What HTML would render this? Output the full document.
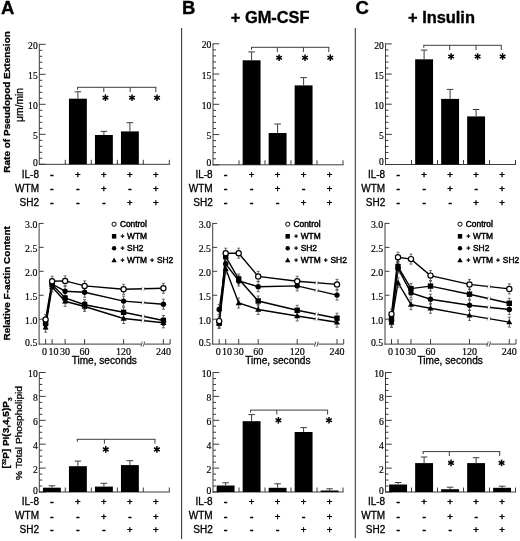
<!DOCTYPE html>
<html><head><meta charset="utf-8"><style>
html,body{margin:0;padding:0;background:#fff;}
body{width:520px;height:541px;overflow:hidden;font-family:"Liberation Sans", sans-serif;}
svg{display:block;filter:grayscale(1) blur(0.3px);}
</style></head><body>
<svg width="520" height="541" viewBox="0 0 520 541">
<rect width="520" height="541" fill="#fff"/>
<text x="0.90" y="14.30" font-size="18.5" text-anchor="start" font-family='"Liberation Sans", sans-serif' font-weight="bold" stroke="#000" stroke-width="0.35" >A</text>
<text x="182.10" y="14.30" font-size="18.5" text-anchor="start" font-family='"Liberation Sans", sans-serif' font-weight="bold" stroke="#000" stroke-width="0.35" >B</text>
<text x="355.60" y="14.30" font-size="18.5" text-anchor="start" font-family='"Liberation Sans", sans-serif' font-weight="bold" stroke="#000" stroke-width="0.35" >C</text>
<text x="230.80" y="23.20" font-size="16.4" text-anchor="start" font-family='"Liberation Sans", sans-serif' font-weight="bold" stroke="#000" stroke-width="0.35" >+ GM-CSF</text>
<text x="408.00" y="23.20" font-size="16.4" text-anchor="start" font-family='"Liberation Sans", sans-serif' font-weight="bold" stroke="#000" stroke-width="0.35" >+ Insulin</text>
<line x1="181.60" y1="28.00" x2="181.60" y2="539.00" stroke="#3c3c3c" stroke-width="1.1"/>
<line x1="355.30" y1="28.00" x2="355.30" y2="538.00" stroke="#3c3c3c" stroke-width="1.1"/>
<line x1="39.30" y1="43.80" x2="39.30" y2="164.80" stroke="#3c3c3c" stroke-width="1"/>
<line x1="38.80" y1="164.30" x2="169.80" y2="164.30" stroke="#3c3c3c" stroke-width="1"/>
<line x1="39.30" y1="164.30" x2="45.60" y2="164.30" stroke="#3c3c3c" stroke-width="1"/>
<line x1="39.30" y1="158.30" x2="42.30" y2="158.30" stroke="#3c3c3c" stroke-width="1"/>
<line x1="39.30" y1="152.30" x2="42.30" y2="152.30" stroke="#3c3c3c" stroke-width="1"/>
<line x1="39.30" y1="146.30" x2="42.30" y2="146.30" stroke="#3c3c3c" stroke-width="1"/>
<line x1="39.30" y1="140.30" x2="42.30" y2="140.30" stroke="#3c3c3c" stroke-width="1"/>
<line x1="39.30" y1="134.30" x2="45.60" y2="134.30" stroke="#3c3c3c" stroke-width="1"/>
<line x1="39.30" y1="128.30" x2="42.30" y2="128.30" stroke="#3c3c3c" stroke-width="1"/>
<line x1="39.30" y1="122.30" x2="42.30" y2="122.30" stroke="#3c3c3c" stroke-width="1"/>
<line x1="39.30" y1="116.30" x2="42.30" y2="116.30" stroke="#3c3c3c" stroke-width="1"/>
<line x1="39.30" y1="110.30" x2="42.30" y2="110.30" stroke="#3c3c3c" stroke-width="1"/>
<line x1="39.30" y1="104.30" x2="45.60" y2="104.30" stroke="#3c3c3c" stroke-width="1"/>
<line x1="39.30" y1="98.30" x2="42.30" y2="98.30" stroke="#3c3c3c" stroke-width="1"/>
<line x1="39.30" y1="92.30" x2="42.30" y2="92.30" stroke="#3c3c3c" stroke-width="1"/>
<line x1="39.30" y1="86.30" x2="42.30" y2="86.30" stroke="#3c3c3c" stroke-width="1"/>
<line x1="39.30" y1="80.30" x2="42.30" y2="80.30" stroke="#3c3c3c" stroke-width="1"/>
<line x1="39.30" y1="74.30" x2="45.60" y2="74.30" stroke="#3c3c3c" stroke-width="1"/>
<line x1="39.30" y1="68.30" x2="42.30" y2="68.30" stroke="#3c3c3c" stroke-width="1"/>
<line x1="39.30" y1="62.30" x2="42.30" y2="62.30" stroke="#3c3c3c" stroke-width="1"/>
<line x1="39.30" y1="56.30" x2="42.30" y2="56.30" stroke="#3c3c3c" stroke-width="1"/>
<line x1="39.30" y1="50.30" x2="42.30" y2="50.30" stroke="#3c3c3c" stroke-width="1"/>
<line x1="39.30" y1="44.30" x2="45.60" y2="44.30" stroke="#3c3c3c" stroke-width="1"/>
<text x="37.70" y="48.90" font-size="9.6" text-anchor="end" font-family='"Liberation Serif", serif' font-weight="normal" stroke="#000" stroke-width="0.18" >20</text>
<text x="37.70" y="78.90" font-size="9.6" text-anchor="end" font-family='"Liberation Serif", serif' font-weight="normal" stroke="#000" stroke-width="0.18" >15</text>
<text x="37.70" y="108.90" font-size="9.6" text-anchor="end" font-family='"Liberation Serif", serif' font-weight="normal" stroke="#000" stroke-width="0.18" >10</text>
<text x="37.70" y="138.90" font-size="9.6" text-anchor="end" font-family='"Liberation Serif", serif' font-weight="normal" stroke="#000" stroke-width="0.18" >5</text>
<text x="37.70" y="165.90" font-size="9.6" text-anchor="end" font-family='"Liberation Serif", serif' font-weight="normal" stroke="#000" stroke-width="0.18" >0</text>
<line x1="65.30" y1="159.80" x2="65.30" y2="164.30" stroke="#3c3c3c" stroke-width="1"/>
<line x1="91.30" y1="159.80" x2="91.30" y2="164.30" stroke="#3c3c3c" stroke-width="1"/>
<line x1="117.30" y1="159.80" x2="117.30" y2="164.30" stroke="#3c3c3c" stroke-width="1"/>
<line x1="143.30" y1="159.80" x2="143.30" y2="164.30" stroke="#3c3c3c" stroke-width="1"/>
<line x1="169.30" y1="159.80" x2="169.30" y2="164.30" stroke="#3c3c3c" stroke-width="1"/>
<rect x="68.95" y="98.70" width="17.9" height="65.60" fill="#000"/>
<line x1="77.90" y1="91.80" x2="77.90" y2="98.70" stroke="#3c3c3c" stroke-width="1"/>
<line x1="74.60" y1="91.80" x2="81.20" y2="91.80" stroke="#3c3c3c" stroke-width="1"/>
<rect x="94.95" y="135.00" width="17.9" height="29.30" fill="#000"/>
<line x1="103.90" y1="131.40" x2="103.90" y2="135.00" stroke="#3c3c3c" stroke-width="1"/>
<line x1="100.60" y1="131.40" x2="107.20" y2="131.40" stroke="#3c3c3c" stroke-width="1"/>
<rect x="120.95" y="131.40" width="17.9" height="32.90" fill="#000"/>
<line x1="129.90" y1="122.70" x2="129.90" y2="131.40" stroke="#3c3c3c" stroke-width="1"/>
<line x1="126.60" y1="122.70" x2="133.20" y2="122.70" stroke="#3c3c3c" stroke-width="1"/>
<line x1="77.10" y1="87.30" x2="156.30" y2="87.30" stroke="#3c3c3c" stroke-width="1"/>
<line x1="77.60" y1="87.30" x2="77.60" y2="89.80" stroke="#3c3c3c" stroke-width="1"/>
<line x1="103.80" y1="87.30" x2="103.80" y2="92.10" stroke="#3c3c3c" stroke-width="1"/>
<line x1="130.20" y1="87.30" x2="130.20" y2="92.10" stroke="#3c3c3c" stroke-width="1"/>
<line x1="155.80" y1="87.30" x2="155.80" y2="92.10" stroke="#3c3c3c" stroke-width="1"/>
<line x1="105.40" y1="94.40" x2="105.40" y2="101.00" stroke="#000" stroke-width="1.5"/>
<line x1="102.54" y1="96.05" x2="108.26" y2="99.35" stroke="#000" stroke-width="1.5"/>
<line x1="102.54" y1="99.35" x2="108.26" y2="96.05" stroke="#000" stroke-width="1.5"/>
<line x1="132.00" y1="94.40" x2="132.00" y2="101.00" stroke="#000" stroke-width="1.5"/>
<line x1="129.14" y1="96.05" x2="134.86" y2="99.35" stroke="#000" stroke-width="1.5"/>
<line x1="129.14" y1="99.35" x2="134.86" y2="96.05" stroke="#000" stroke-width="1.5"/>
<line x1="157.00" y1="94.40" x2="157.00" y2="101.00" stroke="#000" stroke-width="1.5"/>
<line x1="154.14" y1="96.05" x2="159.86" y2="99.35" stroke="#000" stroke-width="1.5"/>
<line x1="154.14" y1="99.35" x2="159.86" y2="96.05" stroke="#000" stroke-width="1.5"/>
<text x="39.00" y="177.60" font-size="10" text-anchor="end" font-family='"Liberation Sans", sans-serif' font-weight="normal" stroke="#000" stroke-width="0.3" >IL-8</text>
<text x="51.90" y="177.90" font-size="10" text-anchor="middle" font-family='"Liberation Sans", sans-serif' font-weight="normal" stroke="#000" stroke-width="0.7" >-</text>
<text x="77.90" y="177.90" font-size="9.6" text-anchor="middle" font-family='"Liberation Sans", sans-serif' font-weight="normal" stroke="#000" stroke-width="0.45" >+</text>
<text x="103.90" y="177.90" font-size="9.6" text-anchor="middle" font-family='"Liberation Sans", sans-serif' font-weight="normal" stroke="#000" stroke-width="0.45" >+</text>
<text x="129.90" y="177.90" font-size="9.6" text-anchor="middle" font-family='"Liberation Sans", sans-serif' font-weight="normal" stroke="#000" stroke-width="0.45" >+</text>
<text x="155.90" y="177.90" font-size="9.6" text-anchor="middle" font-family='"Liberation Sans", sans-serif' font-weight="normal" stroke="#000" stroke-width="0.45" >+</text>
<text x="39.00" y="191.80" font-size="10" text-anchor="end" font-family='"Liberation Sans", sans-serif' font-weight="normal" stroke="#000" stroke-width="0.3" >WTM</text>
<text x="51.90" y="192.10" font-size="10" text-anchor="middle" font-family='"Liberation Sans", sans-serif' font-weight="normal" stroke="#000" stroke-width="0.7" >-</text>
<text x="77.90" y="192.10" font-size="10" text-anchor="middle" font-family='"Liberation Sans", sans-serif' font-weight="normal" stroke="#000" stroke-width="0.7" >-</text>
<text x="103.90" y="192.10" font-size="9.6" text-anchor="middle" font-family='"Liberation Sans", sans-serif' font-weight="normal" stroke="#000" stroke-width="0.45" >+</text>
<text x="129.90" y="192.10" font-size="10" text-anchor="middle" font-family='"Liberation Sans", sans-serif' font-weight="normal" stroke="#000" stroke-width="0.7" >-</text>
<text x="155.90" y="192.10" font-size="9.6" text-anchor="middle" font-family='"Liberation Sans", sans-serif' font-weight="normal" stroke="#000" stroke-width="0.45" >+</text>
<text x="39.00" y="205.90" font-size="10" text-anchor="end" font-family='"Liberation Sans", sans-serif' font-weight="normal" stroke="#000" stroke-width="0.3" >SH2</text>
<text x="51.90" y="206.20" font-size="10" text-anchor="middle" font-family='"Liberation Sans", sans-serif' font-weight="normal" stroke="#000" stroke-width="0.7" >-</text>
<text x="77.90" y="206.20" font-size="10" text-anchor="middle" font-family='"Liberation Sans", sans-serif' font-weight="normal" stroke="#000" stroke-width="0.7" >-</text>
<text x="103.90" y="206.20" font-size="10" text-anchor="middle" font-family='"Liberation Sans", sans-serif' font-weight="normal" stroke="#000" stroke-width="0.7" >-</text>
<text x="129.90" y="206.20" font-size="9.6" text-anchor="middle" font-family='"Liberation Sans", sans-serif' font-weight="normal" stroke="#000" stroke-width="0.45" >+</text>
<text x="155.90" y="206.20" font-size="9.6" text-anchor="middle" font-family='"Liberation Sans", sans-serif' font-weight="normal" stroke="#000" stroke-width="0.45" >+</text>
<line x1="213.00" y1="43.30" x2="213.00" y2="165.30" stroke="#3c3c3c" stroke-width="1"/>
<line x1="212.50" y1="164.80" x2="343.50" y2="164.80" stroke="#3c3c3c" stroke-width="1"/>
<line x1="213.00" y1="164.80" x2="219.30" y2="164.80" stroke="#3c3c3c" stroke-width="1"/>
<line x1="213.00" y1="158.75" x2="216.00" y2="158.75" stroke="#3c3c3c" stroke-width="1"/>
<line x1="213.00" y1="152.70" x2="216.00" y2="152.70" stroke="#3c3c3c" stroke-width="1"/>
<line x1="213.00" y1="146.65" x2="216.00" y2="146.65" stroke="#3c3c3c" stroke-width="1"/>
<line x1="213.00" y1="140.60" x2="216.00" y2="140.60" stroke="#3c3c3c" stroke-width="1"/>
<line x1="213.00" y1="134.55" x2="219.30" y2="134.55" stroke="#3c3c3c" stroke-width="1"/>
<line x1="213.00" y1="128.50" x2="216.00" y2="128.50" stroke="#3c3c3c" stroke-width="1"/>
<line x1="213.00" y1="122.45" x2="216.00" y2="122.45" stroke="#3c3c3c" stroke-width="1"/>
<line x1="213.00" y1="116.40" x2="216.00" y2="116.40" stroke="#3c3c3c" stroke-width="1"/>
<line x1="213.00" y1="110.35" x2="216.00" y2="110.35" stroke="#3c3c3c" stroke-width="1"/>
<line x1="213.00" y1="104.30" x2="219.30" y2="104.30" stroke="#3c3c3c" stroke-width="1"/>
<line x1="213.00" y1="98.25" x2="216.00" y2="98.25" stroke="#3c3c3c" stroke-width="1"/>
<line x1="213.00" y1="92.20" x2="216.00" y2="92.20" stroke="#3c3c3c" stroke-width="1"/>
<line x1="213.00" y1="86.15" x2="216.00" y2="86.15" stroke="#3c3c3c" stroke-width="1"/>
<line x1="213.00" y1="80.10" x2="216.00" y2="80.10" stroke="#3c3c3c" stroke-width="1"/>
<line x1="213.00" y1="74.05" x2="219.30" y2="74.05" stroke="#3c3c3c" stroke-width="1"/>
<line x1="213.00" y1="68.00" x2="216.00" y2="68.00" stroke="#3c3c3c" stroke-width="1"/>
<line x1="213.00" y1="61.95" x2="216.00" y2="61.95" stroke="#3c3c3c" stroke-width="1"/>
<line x1="213.00" y1="55.90" x2="216.00" y2="55.90" stroke="#3c3c3c" stroke-width="1"/>
<line x1="213.00" y1="49.85" x2="216.00" y2="49.85" stroke="#3c3c3c" stroke-width="1"/>
<line x1="213.00" y1="43.80" x2="219.30" y2="43.80" stroke="#3c3c3c" stroke-width="1"/>
<text x="211.40" y="48.40" font-size="9.6" text-anchor="end" font-family='"Liberation Serif", serif' font-weight="normal" stroke="#000" stroke-width="0.18" >20</text>
<text x="211.40" y="78.65" font-size="9.6" text-anchor="end" font-family='"Liberation Serif", serif' font-weight="normal" stroke="#000" stroke-width="0.18" >15</text>
<text x="211.40" y="108.90" font-size="9.6" text-anchor="end" font-family='"Liberation Serif", serif' font-weight="normal" stroke="#000" stroke-width="0.18" >10</text>
<text x="211.40" y="139.15" font-size="9.6" text-anchor="end" font-family='"Liberation Serif", serif' font-weight="normal" stroke="#000" stroke-width="0.18" >5</text>
<text x="211.40" y="165.60" font-size="9.6" text-anchor="end" font-family='"Liberation Serif", serif' font-weight="normal" stroke="#000" stroke-width="0.18" >0</text>
<line x1="239.00" y1="160.30" x2="239.00" y2="164.80" stroke="#3c3c3c" stroke-width="1"/>
<line x1="265.00" y1="160.30" x2="265.00" y2="164.80" stroke="#3c3c3c" stroke-width="1"/>
<line x1="291.00" y1="160.30" x2="291.00" y2="164.80" stroke="#3c3c3c" stroke-width="1"/>
<line x1="317.00" y1="160.30" x2="317.00" y2="164.80" stroke="#3c3c3c" stroke-width="1"/>
<line x1="343.00" y1="160.30" x2="343.00" y2="164.80" stroke="#3c3c3c" stroke-width="1"/>
<rect x="242.65" y="60.30" width="17.9" height="104.50" fill="#000"/>
<line x1="251.60" y1="51.90" x2="251.60" y2="60.30" stroke="#3c3c3c" stroke-width="1"/>
<line x1="248.30" y1="51.90" x2="254.90" y2="51.90" stroke="#3c3c3c" stroke-width="1"/>
<rect x="268.65" y="133.00" width="17.9" height="31.80" fill="#000"/>
<line x1="277.60" y1="124.00" x2="277.60" y2="133.00" stroke="#3c3c3c" stroke-width="1"/>
<line x1="274.30" y1="124.00" x2="280.90" y2="124.00" stroke="#3c3c3c" stroke-width="1"/>
<rect x="294.65" y="85.40" width="17.9" height="79.40" fill="#000"/>
<line x1="303.60" y1="77.60" x2="303.60" y2="85.40" stroke="#3c3c3c" stroke-width="1"/>
<line x1="300.30" y1="77.60" x2="306.90" y2="77.60" stroke="#3c3c3c" stroke-width="1"/>
<line x1="251.00" y1="47.30" x2="329.30" y2="47.30" stroke="#3c3c3c" stroke-width="1"/>
<line x1="251.50" y1="47.30" x2="251.50" y2="49.80" stroke="#3c3c3c" stroke-width="1"/>
<line x1="277.30" y1="47.30" x2="277.30" y2="52.10" stroke="#3c3c3c" stroke-width="1"/>
<line x1="303.40" y1="47.30" x2="303.40" y2="52.10" stroke="#3c3c3c" stroke-width="1"/>
<line x1="328.80" y1="47.30" x2="328.80" y2="52.10" stroke="#3c3c3c" stroke-width="1"/>
<line x1="279.10" y1="54.40" x2="279.10" y2="61.00" stroke="#000" stroke-width="1.5"/>
<line x1="276.24" y1="56.05" x2="281.96" y2="59.35" stroke="#000" stroke-width="1.5"/>
<line x1="276.24" y1="59.35" x2="281.96" y2="56.05" stroke="#000" stroke-width="1.5"/>
<line x1="305.00" y1="54.40" x2="305.00" y2="61.00" stroke="#000" stroke-width="1.5"/>
<line x1="302.14" y1="56.05" x2="307.86" y2="59.35" stroke="#000" stroke-width="1.5"/>
<line x1="302.14" y1="59.35" x2="307.86" y2="56.05" stroke="#000" stroke-width="1.5"/>
<line x1="330.30" y1="54.40" x2="330.30" y2="61.00" stroke="#000" stroke-width="1.5"/>
<line x1="327.44" y1="56.05" x2="333.16" y2="59.35" stroke="#000" stroke-width="1.5"/>
<line x1="327.44" y1="59.35" x2="333.16" y2="56.05" stroke="#000" stroke-width="1.5"/>
<text x="212.70" y="177.60" font-size="10" text-anchor="end" font-family='"Liberation Sans", sans-serif' font-weight="normal" stroke="#000" stroke-width="0.3" >IL-8</text>
<text x="225.60" y="177.90" font-size="10" text-anchor="middle" font-family='"Liberation Sans", sans-serif' font-weight="normal" stroke="#000" stroke-width="0.7" >-</text>
<text x="251.60" y="177.90" font-size="9.6" text-anchor="middle" font-family='"Liberation Sans", sans-serif' font-weight="normal" stroke="#000" stroke-width="0.45" >+</text>
<text x="277.60" y="177.90" font-size="9.6" text-anchor="middle" font-family='"Liberation Sans", sans-serif' font-weight="normal" stroke="#000" stroke-width="0.45" >+</text>
<text x="303.60" y="177.90" font-size="9.6" text-anchor="middle" font-family='"Liberation Sans", sans-serif' font-weight="normal" stroke="#000" stroke-width="0.45" >+</text>
<text x="329.60" y="177.90" font-size="9.6" text-anchor="middle" font-family='"Liberation Sans", sans-serif' font-weight="normal" stroke="#000" stroke-width="0.45" >+</text>
<text x="212.70" y="191.80" font-size="10" text-anchor="end" font-family='"Liberation Sans", sans-serif' font-weight="normal" stroke="#000" stroke-width="0.3" >WTM</text>
<text x="225.60" y="192.10" font-size="10" text-anchor="middle" font-family='"Liberation Sans", sans-serif' font-weight="normal" stroke="#000" stroke-width="0.7" >-</text>
<text x="251.60" y="192.10" font-size="10" text-anchor="middle" font-family='"Liberation Sans", sans-serif' font-weight="normal" stroke="#000" stroke-width="0.7" >-</text>
<text x="277.60" y="192.10" font-size="9.6" text-anchor="middle" font-family='"Liberation Sans", sans-serif' font-weight="normal" stroke="#000" stroke-width="0.45" >+</text>
<text x="303.60" y="192.10" font-size="10" text-anchor="middle" font-family='"Liberation Sans", sans-serif' font-weight="normal" stroke="#000" stroke-width="0.7" >-</text>
<text x="329.60" y="192.10" font-size="9.6" text-anchor="middle" font-family='"Liberation Sans", sans-serif' font-weight="normal" stroke="#000" stroke-width="0.45" >+</text>
<text x="212.70" y="205.90" font-size="10" text-anchor="end" font-family='"Liberation Sans", sans-serif' font-weight="normal" stroke="#000" stroke-width="0.3" >SH2</text>
<text x="225.60" y="206.20" font-size="10" text-anchor="middle" font-family='"Liberation Sans", sans-serif' font-weight="normal" stroke="#000" stroke-width="0.7" >-</text>
<text x="251.60" y="206.20" font-size="10" text-anchor="middle" font-family='"Liberation Sans", sans-serif' font-weight="normal" stroke="#000" stroke-width="0.7" >-</text>
<text x="277.60" y="206.20" font-size="10" text-anchor="middle" font-family='"Liberation Sans", sans-serif' font-weight="normal" stroke="#000" stroke-width="0.7" >-</text>
<text x="303.60" y="206.20" font-size="9.6" text-anchor="middle" font-family='"Liberation Sans", sans-serif' font-weight="normal" stroke="#000" stroke-width="0.45" >+</text>
<text x="329.60" y="206.20" font-size="9.6" text-anchor="middle" font-family='"Liberation Sans", sans-serif' font-weight="normal" stroke="#000" stroke-width="0.45" >+</text>
<line x1="385.50" y1="43.40" x2="385.50" y2="165.00" stroke="#3c3c3c" stroke-width="1"/>
<line x1="385.00" y1="164.50" x2="516.00" y2="164.50" stroke="#3c3c3c" stroke-width="1"/>
<line x1="385.50" y1="164.50" x2="391.80" y2="164.50" stroke="#3c3c3c" stroke-width="1"/>
<line x1="385.50" y1="158.47" x2="388.50" y2="158.47" stroke="#3c3c3c" stroke-width="1"/>
<line x1="385.50" y1="152.44" x2="388.50" y2="152.44" stroke="#3c3c3c" stroke-width="1"/>
<line x1="385.50" y1="146.41" x2="388.50" y2="146.41" stroke="#3c3c3c" stroke-width="1"/>
<line x1="385.50" y1="140.38" x2="388.50" y2="140.38" stroke="#3c3c3c" stroke-width="1"/>
<line x1="385.50" y1="134.35" x2="391.80" y2="134.35" stroke="#3c3c3c" stroke-width="1"/>
<line x1="385.50" y1="128.32" x2="388.50" y2="128.32" stroke="#3c3c3c" stroke-width="1"/>
<line x1="385.50" y1="122.29" x2="388.50" y2="122.29" stroke="#3c3c3c" stroke-width="1"/>
<line x1="385.50" y1="116.26" x2="388.50" y2="116.26" stroke="#3c3c3c" stroke-width="1"/>
<line x1="385.50" y1="110.23" x2="388.50" y2="110.23" stroke="#3c3c3c" stroke-width="1"/>
<line x1="385.50" y1="104.20" x2="391.80" y2="104.20" stroke="#3c3c3c" stroke-width="1"/>
<line x1="385.50" y1="98.17" x2="388.50" y2="98.17" stroke="#3c3c3c" stroke-width="1"/>
<line x1="385.50" y1="92.14" x2="388.50" y2="92.14" stroke="#3c3c3c" stroke-width="1"/>
<line x1="385.50" y1="86.11" x2="388.50" y2="86.11" stroke="#3c3c3c" stroke-width="1"/>
<line x1="385.50" y1="80.08" x2="388.50" y2="80.08" stroke="#3c3c3c" stroke-width="1"/>
<line x1="385.50" y1="74.05" x2="391.80" y2="74.05" stroke="#3c3c3c" stroke-width="1"/>
<line x1="385.50" y1="68.02" x2="388.50" y2="68.02" stroke="#3c3c3c" stroke-width="1"/>
<line x1="385.50" y1="61.99" x2="388.50" y2="61.99" stroke="#3c3c3c" stroke-width="1"/>
<line x1="385.50" y1="55.96" x2="388.50" y2="55.96" stroke="#3c3c3c" stroke-width="1"/>
<line x1="385.50" y1="49.93" x2="388.50" y2="49.93" stroke="#3c3c3c" stroke-width="1"/>
<line x1="385.50" y1="43.90" x2="391.80" y2="43.90" stroke="#3c3c3c" stroke-width="1"/>
<text x="383.90" y="48.50" font-size="9.6" text-anchor="end" font-family='"Liberation Serif", serif' font-weight="normal" stroke="#000" stroke-width="0.18" >20</text>
<text x="383.90" y="78.65" font-size="9.6" text-anchor="end" font-family='"Liberation Serif", serif' font-weight="normal" stroke="#000" stroke-width="0.18" >15</text>
<text x="383.90" y="108.80" font-size="9.6" text-anchor="end" font-family='"Liberation Serif", serif' font-weight="normal" stroke="#000" stroke-width="0.18" >10</text>
<text x="383.90" y="138.95" font-size="9.6" text-anchor="end" font-family='"Liberation Serif", serif' font-weight="normal" stroke="#000" stroke-width="0.18" >5</text>
<text x="383.90" y="164.90" font-size="9.6" text-anchor="end" font-family='"Liberation Serif", serif' font-weight="normal" stroke="#000" stroke-width="0.18" >0</text>
<line x1="411.50" y1="160.00" x2="411.50" y2="164.50" stroke="#3c3c3c" stroke-width="1"/>
<line x1="437.50" y1="160.00" x2="437.50" y2="164.50" stroke="#3c3c3c" stroke-width="1"/>
<line x1="463.50" y1="160.00" x2="463.50" y2="164.50" stroke="#3c3c3c" stroke-width="1"/>
<line x1="489.50" y1="160.00" x2="489.50" y2="164.50" stroke="#3c3c3c" stroke-width="1"/>
<line x1="515.50" y1="160.00" x2="515.50" y2="164.50" stroke="#3c3c3c" stroke-width="1"/>
<rect x="415.15" y="59.30" width="17.9" height="105.20" fill="#000"/>
<line x1="424.10" y1="50.10" x2="424.10" y2="59.30" stroke="#3c3c3c" stroke-width="1"/>
<line x1="420.80" y1="50.10" x2="427.40" y2="50.10" stroke="#3c3c3c" stroke-width="1"/>
<rect x="441.15" y="98.90" width="17.9" height="65.60" fill="#000"/>
<line x1="450.10" y1="89.40" x2="450.10" y2="98.90" stroke="#3c3c3c" stroke-width="1"/>
<line x1="446.80" y1="89.40" x2="453.40" y2="89.40" stroke="#3c3c3c" stroke-width="1"/>
<rect x="467.15" y="116.40" width="17.9" height="48.10" fill="#000"/>
<line x1="476.10" y1="109.50" x2="476.10" y2="116.40" stroke="#3c3c3c" stroke-width="1"/>
<line x1="472.80" y1="109.50" x2="479.40" y2="109.50" stroke="#3c3c3c" stroke-width="1"/>
<line x1="423.30" y1="45.30" x2="501.80" y2="45.30" stroke="#3c3c3c" stroke-width="1"/>
<line x1="423.80" y1="45.30" x2="423.80" y2="47.80" stroke="#3c3c3c" stroke-width="1"/>
<line x1="449.70" y1="45.30" x2="449.70" y2="50.10" stroke="#3c3c3c" stroke-width="1"/>
<line x1="476.00" y1="45.30" x2="476.00" y2="50.10" stroke="#3c3c3c" stroke-width="1"/>
<line x1="501.30" y1="45.30" x2="501.30" y2="50.10" stroke="#3c3c3c" stroke-width="1"/>
<line x1="451.10" y1="53.20" x2="451.10" y2="59.80" stroke="#000" stroke-width="1.5"/>
<line x1="448.24" y1="54.85" x2="453.96" y2="58.15" stroke="#000" stroke-width="1.5"/>
<line x1="448.24" y1="58.15" x2="453.96" y2="54.85" stroke="#000" stroke-width="1.5"/>
<line x1="477.60" y1="53.20" x2="477.60" y2="59.80" stroke="#000" stroke-width="1.5"/>
<line x1="474.74" y1="54.85" x2="480.46" y2="58.15" stroke="#000" stroke-width="1.5"/>
<line x1="474.74" y1="58.15" x2="480.46" y2="54.85" stroke="#000" stroke-width="1.5"/>
<line x1="502.60" y1="53.20" x2="502.60" y2="59.80" stroke="#000" stroke-width="1.5"/>
<line x1="499.74" y1="54.85" x2="505.46" y2="58.15" stroke="#000" stroke-width="1.5"/>
<line x1="499.74" y1="58.15" x2="505.46" y2="54.85" stroke="#000" stroke-width="1.5"/>
<text x="385.20" y="177.60" font-size="10" text-anchor="end" font-family='"Liberation Sans", sans-serif' font-weight="normal" stroke="#000" stroke-width="0.3" >IL-8</text>
<text x="398.10" y="177.90" font-size="10" text-anchor="middle" font-family='"Liberation Sans", sans-serif' font-weight="normal" stroke="#000" stroke-width="0.7" >-</text>
<text x="424.10" y="177.90" font-size="9.6" text-anchor="middle" font-family='"Liberation Sans", sans-serif' font-weight="normal" stroke="#000" stroke-width="0.45" >+</text>
<text x="450.10" y="177.90" font-size="9.6" text-anchor="middle" font-family='"Liberation Sans", sans-serif' font-weight="normal" stroke="#000" stroke-width="0.45" >+</text>
<text x="476.10" y="177.90" font-size="9.6" text-anchor="middle" font-family='"Liberation Sans", sans-serif' font-weight="normal" stroke="#000" stroke-width="0.45" >+</text>
<text x="502.10" y="177.90" font-size="9.6" text-anchor="middle" font-family='"Liberation Sans", sans-serif' font-weight="normal" stroke="#000" stroke-width="0.45" >+</text>
<text x="385.20" y="191.80" font-size="10" text-anchor="end" font-family='"Liberation Sans", sans-serif' font-weight="normal" stroke="#000" stroke-width="0.3" >WTM</text>
<text x="398.10" y="192.10" font-size="10" text-anchor="middle" font-family='"Liberation Sans", sans-serif' font-weight="normal" stroke="#000" stroke-width="0.7" >-</text>
<text x="424.10" y="192.10" font-size="10" text-anchor="middle" font-family='"Liberation Sans", sans-serif' font-weight="normal" stroke="#000" stroke-width="0.7" >-</text>
<text x="450.10" y="192.10" font-size="9.6" text-anchor="middle" font-family='"Liberation Sans", sans-serif' font-weight="normal" stroke="#000" stroke-width="0.45" >+</text>
<text x="476.10" y="192.10" font-size="10" text-anchor="middle" font-family='"Liberation Sans", sans-serif' font-weight="normal" stroke="#000" stroke-width="0.7" >-</text>
<text x="502.10" y="192.10" font-size="9.6" text-anchor="middle" font-family='"Liberation Sans", sans-serif' font-weight="normal" stroke="#000" stroke-width="0.45" >+</text>
<text x="385.20" y="205.90" font-size="10" text-anchor="end" font-family='"Liberation Sans", sans-serif' font-weight="normal" stroke="#000" stroke-width="0.3" >SH2</text>
<text x="398.10" y="206.20" font-size="10" text-anchor="middle" font-family='"Liberation Sans", sans-serif' font-weight="normal" stroke="#000" stroke-width="0.7" >-</text>
<text x="424.10" y="206.20" font-size="10" text-anchor="middle" font-family='"Liberation Sans", sans-serif' font-weight="normal" stroke="#000" stroke-width="0.7" >-</text>
<text x="450.10" y="206.20" font-size="10" text-anchor="middle" font-family='"Liberation Sans", sans-serif' font-weight="normal" stroke="#000" stroke-width="0.7" >-</text>
<text x="476.10" y="206.20" font-size="9.6" text-anchor="middle" font-family='"Liberation Sans", sans-serif' font-weight="normal" stroke="#000" stroke-width="0.45" >+</text>
<text x="502.10" y="206.20" font-size="9.6" text-anchor="middle" font-family='"Liberation Sans", sans-serif' font-weight="normal" stroke="#000" stroke-width="0.45" >+</text>
<line x1="39.30" y1="372.00" x2="39.30" y2="492.50" stroke="#3c3c3c" stroke-width="1"/>
<line x1="38.80" y1="492.00" x2="169.80" y2="492.00" stroke="#3c3c3c" stroke-width="1"/>
<line x1="39.30" y1="492.00" x2="45.60" y2="492.00" stroke="#3c3c3c" stroke-width="1"/>
<line x1="39.30" y1="486.02" x2="42.30" y2="486.02" stroke="#3c3c3c" stroke-width="1"/>
<line x1="39.30" y1="480.05" x2="42.30" y2="480.05" stroke="#3c3c3c" stroke-width="1"/>
<line x1="39.30" y1="474.07" x2="42.30" y2="474.07" stroke="#3c3c3c" stroke-width="1"/>
<line x1="39.30" y1="468.10" x2="45.60" y2="468.10" stroke="#3c3c3c" stroke-width="1"/>
<line x1="39.30" y1="462.12" x2="42.30" y2="462.12" stroke="#3c3c3c" stroke-width="1"/>
<line x1="39.30" y1="456.15" x2="42.30" y2="456.15" stroke="#3c3c3c" stroke-width="1"/>
<line x1="39.30" y1="450.18" x2="42.30" y2="450.18" stroke="#3c3c3c" stroke-width="1"/>
<line x1="39.30" y1="444.20" x2="45.60" y2="444.20" stroke="#3c3c3c" stroke-width="1"/>
<line x1="39.30" y1="438.23" x2="42.30" y2="438.23" stroke="#3c3c3c" stroke-width="1"/>
<line x1="39.30" y1="432.25" x2="42.30" y2="432.25" stroke="#3c3c3c" stroke-width="1"/>
<line x1="39.30" y1="426.27" x2="42.30" y2="426.27" stroke="#3c3c3c" stroke-width="1"/>
<line x1="39.30" y1="420.30" x2="45.60" y2="420.30" stroke="#3c3c3c" stroke-width="1"/>
<line x1="39.30" y1="414.32" x2="42.30" y2="414.32" stroke="#3c3c3c" stroke-width="1"/>
<line x1="39.30" y1="408.35" x2="42.30" y2="408.35" stroke="#3c3c3c" stroke-width="1"/>
<line x1="39.30" y1="402.38" x2="42.30" y2="402.38" stroke="#3c3c3c" stroke-width="1"/>
<line x1="39.30" y1="396.40" x2="45.60" y2="396.40" stroke="#3c3c3c" stroke-width="1"/>
<line x1="39.30" y1="390.43" x2="42.30" y2="390.43" stroke="#3c3c3c" stroke-width="1"/>
<line x1="39.30" y1="384.45" x2="42.30" y2="384.45" stroke="#3c3c3c" stroke-width="1"/>
<line x1="39.30" y1="378.48" x2="42.30" y2="378.48" stroke="#3c3c3c" stroke-width="1"/>
<line x1="39.30" y1="372.50" x2="45.60" y2="372.50" stroke="#3c3c3c" stroke-width="1"/>
<text x="37.70" y="377.10" font-size="9.6" text-anchor="end" font-family='"Liberation Serif", serif' font-weight="normal" stroke="#000" stroke-width="0.18" >10</text>
<text x="37.70" y="401.00" font-size="9.6" text-anchor="end" font-family='"Liberation Serif", serif' font-weight="normal" stroke="#000" stroke-width="0.18" >8</text>
<text x="37.70" y="424.90" font-size="9.6" text-anchor="end" font-family='"Liberation Serif", serif' font-weight="normal" stroke="#000" stroke-width="0.18" >6</text>
<text x="37.70" y="448.80" font-size="9.6" text-anchor="end" font-family='"Liberation Serif", serif' font-weight="normal" stroke="#000" stroke-width="0.18" >4</text>
<text x="37.70" y="472.70" font-size="9.6" text-anchor="end" font-family='"Liberation Serif", serif' font-weight="normal" stroke="#000" stroke-width="0.18" >2</text>
<text x="37.70" y="493.60" font-size="9.6" text-anchor="end" font-family='"Liberation Serif", serif' font-weight="normal" stroke="#000" stroke-width="0.18" >0</text>
<line x1="65.30" y1="487.50" x2="65.30" y2="492.00" stroke="#3c3c3c" stroke-width="1"/>
<line x1="91.30" y1="487.50" x2="91.30" y2="492.00" stroke="#3c3c3c" stroke-width="1"/>
<line x1="117.30" y1="487.50" x2="117.30" y2="492.00" stroke="#3c3c3c" stroke-width="1"/>
<line x1="143.30" y1="487.50" x2="143.30" y2="492.00" stroke="#3c3c3c" stroke-width="1"/>
<line x1="169.30" y1="487.50" x2="169.30" y2="492.00" stroke="#3c3c3c" stroke-width="1"/>
<rect x="42.95" y="487.70" width="17.9" height="4.30" fill="#000"/>
<line x1="51.90" y1="485.80" x2="51.90" y2="487.70" stroke="#3c3c3c" stroke-width="1"/>
<line x1="48.60" y1="485.80" x2="55.20" y2="485.80" stroke="#3c3c3c" stroke-width="1"/>
<rect x="68.95" y="466.20" width="17.9" height="25.80" fill="#000"/>
<line x1="77.90" y1="461.10" x2="77.90" y2="466.20" stroke="#3c3c3c" stroke-width="1"/>
<line x1="74.60" y1="461.10" x2="81.20" y2="461.10" stroke="#3c3c3c" stroke-width="1"/>
<rect x="94.95" y="486.60" width="17.9" height="5.40" fill="#000"/>
<line x1="103.90" y1="483.30" x2="103.90" y2="486.60" stroke="#3c3c3c" stroke-width="1"/>
<line x1="100.60" y1="483.30" x2="107.20" y2="483.30" stroke="#3c3c3c" stroke-width="1"/>
<rect x="120.95" y="465.10" width="17.9" height="26.90" fill="#000"/>
<line x1="129.90" y1="460.70" x2="129.90" y2="465.10" stroke="#3c3c3c" stroke-width="1"/>
<line x1="126.60" y1="460.70" x2="133.20" y2="460.70" stroke="#3c3c3c" stroke-width="1"/>
<line x1="76.80" y1="439.30" x2="155.50" y2="439.30" stroke="#3c3c3c" stroke-width="1"/>
<line x1="77.30" y1="439.30" x2="77.30" y2="441.80" stroke="#3c3c3c" stroke-width="1"/>
<line x1="104.40" y1="439.30" x2="104.40" y2="443.70" stroke="#3c3c3c" stroke-width="1"/>
<line x1="155.00" y1="439.30" x2="155.00" y2="443.70" stroke="#3c3c3c" stroke-width="1"/>
<line x1="105.80" y1="446.10" x2="105.80" y2="452.70" stroke="#000" stroke-width="1.5"/>
<line x1="102.94" y1="447.75" x2="108.66" y2="451.05" stroke="#000" stroke-width="1.5"/>
<line x1="102.94" y1="451.05" x2="108.66" y2="447.75" stroke="#000" stroke-width="1.5"/>
<line x1="156.90" y1="446.10" x2="156.90" y2="452.70" stroke="#000" stroke-width="1.5"/>
<line x1="154.04" y1="447.75" x2="159.76" y2="451.05" stroke="#000" stroke-width="1.5"/>
<line x1="154.04" y1="451.05" x2="159.76" y2="447.75" stroke="#000" stroke-width="1.5"/>
<text x="39.00" y="505.00" font-size="10" text-anchor="end" font-family='"Liberation Sans", sans-serif' font-weight="normal" stroke="#000" stroke-width="0.3" >IL-8</text>
<text x="51.90" y="505.30" font-size="10" text-anchor="middle" font-family='"Liberation Sans", sans-serif' font-weight="normal" stroke="#000" stroke-width="0.7" >-</text>
<text x="77.90" y="505.30" font-size="9.6" text-anchor="middle" font-family='"Liberation Sans", sans-serif' font-weight="normal" stroke="#000" stroke-width="0.45" >+</text>
<text x="103.90" y="505.30" font-size="9.6" text-anchor="middle" font-family='"Liberation Sans", sans-serif' font-weight="normal" stroke="#000" stroke-width="0.45" >+</text>
<text x="129.90" y="505.30" font-size="9.6" text-anchor="middle" font-family='"Liberation Sans", sans-serif' font-weight="normal" stroke="#000" stroke-width="0.45" >+</text>
<text x="155.90" y="505.30" font-size="9.6" text-anchor="middle" font-family='"Liberation Sans", sans-serif' font-weight="normal" stroke="#000" stroke-width="0.45" >+</text>
<text x="39.00" y="519.20" font-size="10" text-anchor="end" font-family='"Liberation Sans", sans-serif' font-weight="normal" stroke="#000" stroke-width="0.3" >WTM</text>
<text x="51.90" y="519.50" font-size="10" text-anchor="middle" font-family='"Liberation Sans", sans-serif' font-weight="normal" stroke="#000" stroke-width="0.7" >-</text>
<text x="77.90" y="519.50" font-size="10" text-anchor="middle" font-family='"Liberation Sans", sans-serif' font-weight="normal" stroke="#000" stroke-width="0.7" >-</text>
<text x="103.90" y="519.50" font-size="9.6" text-anchor="middle" font-family='"Liberation Sans", sans-serif' font-weight="normal" stroke="#000" stroke-width="0.45" >+</text>
<text x="129.90" y="519.50" font-size="10" text-anchor="middle" font-family='"Liberation Sans", sans-serif' font-weight="normal" stroke="#000" stroke-width="0.7" >-</text>
<text x="155.90" y="519.50" font-size="9.6" text-anchor="middle" font-family='"Liberation Sans", sans-serif' font-weight="normal" stroke="#000" stroke-width="0.45" >+</text>
<text x="39.00" y="533.00" font-size="10" text-anchor="end" font-family='"Liberation Sans", sans-serif' font-weight="normal" stroke="#000" stroke-width="0.3" >SH2</text>
<text x="51.90" y="533.30" font-size="10" text-anchor="middle" font-family='"Liberation Sans", sans-serif' font-weight="normal" stroke="#000" stroke-width="0.7" >-</text>
<text x="77.90" y="533.30" font-size="10" text-anchor="middle" font-family='"Liberation Sans", sans-serif' font-weight="normal" stroke="#000" stroke-width="0.7" >-</text>
<text x="103.90" y="533.30" font-size="10" text-anchor="middle" font-family='"Liberation Sans", sans-serif' font-weight="normal" stroke="#000" stroke-width="0.7" >-</text>
<text x="129.90" y="533.30" font-size="9.6" text-anchor="middle" font-family='"Liberation Sans", sans-serif' font-weight="normal" stroke="#000" stroke-width="0.45" >+</text>
<text x="155.90" y="533.30" font-size="9.6" text-anchor="middle" font-family='"Liberation Sans", sans-serif' font-weight="normal" stroke="#000" stroke-width="0.45" >+</text>
<line x1="213.00" y1="372.00" x2="213.00" y2="492.50" stroke="#3c3c3c" stroke-width="1"/>
<line x1="212.50" y1="492.00" x2="343.50" y2="492.00" stroke="#3c3c3c" stroke-width="1"/>
<line x1="213.00" y1="492.00" x2="219.30" y2="492.00" stroke="#3c3c3c" stroke-width="1"/>
<line x1="213.00" y1="486.02" x2="216.00" y2="486.02" stroke="#3c3c3c" stroke-width="1"/>
<line x1="213.00" y1="480.05" x2="216.00" y2="480.05" stroke="#3c3c3c" stroke-width="1"/>
<line x1="213.00" y1="474.07" x2="216.00" y2="474.07" stroke="#3c3c3c" stroke-width="1"/>
<line x1="213.00" y1="468.10" x2="219.30" y2="468.10" stroke="#3c3c3c" stroke-width="1"/>
<line x1="213.00" y1="462.12" x2="216.00" y2="462.12" stroke="#3c3c3c" stroke-width="1"/>
<line x1="213.00" y1="456.15" x2="216.00" y2="456.15" stroke="#3c3c3c" stroke-width="1"/>
<line x1="213.00" y1="450.18" x2="216.00" y2="450.18" stroke="#3c3c3c" stroke-width="1"/>
<line x1="213.00" y1="444.20" x2="219.30" y2="444.20" stroke="#3c3c3c" stroke-width="1"/>
<line x1="213.00" y1="438.23" x2="216.00" y2="438.23" stroke="#3c3c3c" stroke-width="1"/>
<line x1="213.00" y1="432.25" x2="216.00" y2="432.25" stroke="#3c3c3c" stroke-width="1"/>
<line x1="213.00" y1="426.27" x2="216.00" y2="426.27" stroke="#3c3c3c" stroke-width="1"/>
<line x1="213.00" y1="420.30" x2="219.30" y2="420.30" stroke="#3c3c3c" stroke-width="1"/>
<line x1="213.00" y1="414.32" x2="216.00" y2="414.32" stroke="#3c3c3c" stroke-width="1"/>
<line x1="213.00" y1="408.35" x2="216.00" y2="408.35" stroke="#3c3c3c" stroke-width="1"/>
<line x1="213.00" y1="402.38" x2="216.00" y2="402.38" stroke="#3c3c3c" stroke-width="1"/>
<line x1="213.00" y1="396.40" x2="219.30" y2="396.40" stroke="#3c3c3c" stroke-width="1"/>
<line x1="213.00" y1="390.43" x2="216.00" y2="390.43" stroke="#3c3c3c" stroke-width="1"/>
<line x1="213.00" y1="384.45" x2="216.00" y2="384.45" stroke="#3c3c3c" stroke-width="1"/>
<line x1="213.00" y1="378.48" x2="216.00" y2="378.48" stroke="#3c3c3c" stroke-width="1"/>
<line x1="213.00" y1="372.50" x2="219.30" y2="372.50" stroke="#3c3c3c" stroke-width="1"/>
<text x="211.40" y="377.10" font-size="9.6" text-anchor="end" font-family='"Liberation Serif", serif' font-weight="normal" stroke="#000" stroke-width="0.18" >10</text>
<text x="211.40" y="401.00" font-size="9.6" text-anchor="end" font-family='"Liberation Serif", serif' font-weight="normal" stroke="#000" stroke-width="0.18" >8</text>
<text x="211.40" y="424.90" font-size="9.6" text-anchor="end" font-family='"Liberation Serif", serif' font-weight="normal" stroke="#000" stroke-width="0.18" >6</text>
<text x="211.40" y="448.80" font-size="9.6" text-anchor="end" font-family='"Liberation Serif", serif' font-weight="normal" stroke="#000" stroke-width="0.18" >4</text>
<text x="211.40" y="472.70" font-size="9.6" text-anchor="end" font-family='"Liberation Serif", serif' font-weight="normal" stroke="#000" stroke-width="0.18" >2</text>
<text x="211.40" y="493.60" font-size="9.6" text-anchor="end" font-family='"Liberation Serif", serif' font-weight="normal" stroke="#000" stroke-width="0.18" >0</text>
<line x1="239.00" y1="487.50" x2="239.00" y2="492.00" stroke="#3c3c3c" stroke-width="1"/>
<line x1="265.00" y1="487.50" x2="265.00" y2="492.00" stroke="#3c3c3c" stroke-width="1"/>
<line x1="291.00" y1="487.50" x2="291.00" y2="492.00" stroke="#3c3c3c" stroke-width="1"/>
<line x1="317.00" y1="487.50" x2="317.00" y2="492.00" stroke="#3c3c3c" stroke-width="1"/>
<line x1="343.00" y1="487.50" x2="343.00" y2="492.00" stroke="#3c3c3c" stroke-width="1"/>
<rect x="216.65" y="485.50" width="17.9" height="6.50" fill="#000"/>
<line x1="225.60" y1="482.80" x2="225.60" y2="485.50" stroke="#3c3c3c" stroke-width="1"/>
<line x1="222.30" y1="482.80" x2="228.90" y2="482.80" stroke="#3c3c3c" stroke-width="1"/>
<rect x="242.65" y="421.20" width="17.9" height="70.80" fill="#000"/>
<line x1="251.60" y1="414.60" x2="251.60" y2="421.20" stroke="#3c3c3c" stroke-width="1"/>
<line x1="248.30" y1="414.60" x2="254.90" y2="414.60" stroke="#3c3c3c" stroke-width="1"/>
<rect x="268.65" y="487.80" width="17.9" height="4.20" fill="#000"/>
<line x1="277.60" y1="483.80" x2="277.60" y2="487.80" stroke="#3c3c3c" stroke-width="1"/>
<line x1="274.30" y1="483.80" x2="280.90" y2="483.80" stroke="#3c3c3c" stroke-width="1"/>
<rect x="294.65" y="432.00" width="17.9" height="60.00" fill="#000"/>
<line x1="303.60" y1="427.60" x2="303.60" y2="432.00" stroke="#3c3c3c" stroke-width="1"/>
<line x1="300.30" y1="427.60" x2="306.90" y2="427.60" stroke="#3c3c3c" stroke-width="1"/>
<rect x="320.65" y="490.50" width="17.9" height="1.50" fill="#000"/>
<line x1="329.60" y1="488.80" x2="329.60" y2="490.50" stroke="#3c3c3c" stroke-width="1"/>
<line x1="326.30" y1="488.80" x2="332.90" y2="488.80" stroke="#3c3c3c" stroke-width="1"/>
<line x1="250.10" y1="410.10" x2="328.10" y2="410.10" stroke="#3c3c3c" stroke-width="1"/>
<line x1="250.60" y1="410.10" x2="250.60" y2="412.60" stroke="#3c3c3c" stroke-width="1"/>
<line x1="276.80" y1="410.10" x2="276.80" y2="414.50" stroke="#3c3c3c" stroke-width="1"/>
<line x1="327.60" y1="410.10" x2="327.60" y2="414.50" stroke="#3c3c3c" stroke-width="1"/>
<line x1="278.40" y1="417.00" x2="278.40" y2="423.60" stroke="#000" stroke-width="1.5"/>
<line x1="275.54" y1="418.65" x2="281.26" y2="421.95" stroke="#000" stroke-width="1.5"/>
<line x1="275.54" y1="421.95" x2="281.26" y2="418.65" stroke="#000" stroke-width="1.5"/>
<line x1="329.00" y1="417.00" x2="329.00" y2="423.60" stroke="#000" stroke-width="1.5"/>
<line x1="326.14" y1="418.65" x2="331.86" y2="421.95" stroke="#000" stroke-width="1.5"/>
<line x1="326.14" y1="421.95" x2="331.86" y2="418.65" stroke="#000" stroke-width="1.5"/>
<text x="212.70" y="505.00" font-size="10" text-anchor="end" font-family='"Liberation Sans", sans-serif' font-weight="normal" stroke="#000" stroke-width="0.3" >IL-8</text>
<text x="225.60" y="505.30" font-size="10" text-anchor="middle" font-family='"Liberation Sans", sans-serif' font-weight="normal" stroke="#000" stroke-width="0.7" >-</text>
<text x="251.60" y="505.30" font-size="9.6" text-anchor="middle" font-family='"Liberation Sans", sans-serif' font-weight="normal" stroke="#000" stroke-width="0.45" >+</text>
<text x="277.60" y="505.30" font-size="9.6" text-anchor="middle" font-family='"Liberation Sans", sans-serif' font-weight="normal" stroke="#000" stroke-width="0.45" >+</text>
<text x="303.60" y="505.30" font-size="9.6" text-anchor="middle" font-family='"Liberation Sans", sans-serif' font-weight="normal" stroke="#000" stroke-width="0.45" >+</text>
<text x="329.60" y="505.30" font-size="9.6" text-anchor="middle" font-family='"Liberation Sans", sans-serif' font-weight="normal" stroke="#000" stroke-width="0.45" >+</text>
<text x="212.70" y="519.20" font-size="10" text-anchor="end" font-family='"Liberation Sans", sans-serif' font-weight="normal" stroke="#000" stroke-width="0.3" >WTM</text>
<text x="225.60" y="519.50" font-size="10" text-anchor="middle" font-family='"Liberation Sans", sans-serif' font-weight="normal" stroke="#000" stroke-width="0.7" >-</text>
<text x="251.60" y="519.50" font-size="10" text-anchor="middle" font-family='"Liberation Sans", sans-serif' font-weight="normal" stroke="#000" stroke-width="0.7" >-</text>
<text x="277.60" y="519.50" font-size="9.6" text-anchor="middle" font-family='"Liberation Sans", sans-serif' font-weight="normal" stroke="#000" stroke-width="0.45" >+</text>
<text x="303.60" y="519.50" font-size="10" text-anchor="middle" font-family='"Liberation Sans", sans-serif' font-weight="normal" stroke="#000" stroke-width="0.7" >-</text>
<text x="329.60" y="519.50" font-size="9.6" text-anchor="middle" font-family='"Liberation Sans", sans-serif' font-weight="normal" stroke="#000" stroke-width="0.45" >+</text>
<text x="212.70" y="533.00" font-size="10" text-anchor="end" font-family='"Liberation Sans", sans-serif' font-weight="normal" stroke="#000" stroke-width="0.3" >SH2</text>
<text x="225.60" y="533.30" font-size="10" text-anchor="middle" font-family='"Liberation Sans", sans-serif' font-weight="normal" stroke="#000" stroke-width="0.7" >-</text>
<text x="251.60" y="533.30" font-size="10" text-anchor="middle" font-family='"Liberation Sans", sans-serif' font-weight="normal" stroke="#000" stroke-width="0.7" >-</text>
<text x="277.60" y="533.30" font-size="10" text-anchor="middle" font-family='"Liberation Sans", sans-serif' font-weight="normal" stroke="#000" stroke-width="0.7" >-</text>
<text x="303.60" y="533.30" font-size="9.6" text-anchor="middle" font-family='"Liberation Sans", sans-serif' font-weight="normal" stroke="#000" stroke-width="0.45" >+</text>
<text x="329.60" y="533.30" font-size="9.6" text-anchor="middle" font-family='"Liberation Sans", sans-serif' font-weight="normal" stroke="#000" stroke-width="0.45" >+</text>
<line x1="385.50" y1="372.00" x2="385.50" y2="492.50" stroke="#3c3c3c" stroke-width="1"/>
<line x1="385.00" y1="492.00" x2="516.00" y2="492.00" stroke="#3c3c3c" stroke-width="1"/>
<line x1="385.50" y1="492.00" x2="391.80" y2="492.00" stroke="#3c3c3c" stroke-width="1"/>
<line x1="385.50" y1="486.02" x2="388.50" y2="486.02" stroke="#3c3c3c" stroke-width="1"/>
<line x1="385.50" y1="480.05" x2="388.50" y2="480.05" stroke="#3c3c3c" stroke-width="1"/>
<line x1="385.50" y1="474.07" x2="388.50" y2="474.07" stroke="#3c3c3c" stroke-width="1"/>
<line x1="385.50" y1="468.10" x2="391.80" y2="468.10" stroke="#3c3c3c" stroke-width="1"/>
<line x1="385.50" y1="462.12" x2="388.50" y2="462.12" stroke="#3c3c3c" stroke-width="1"/>
<line x1="385.50" y1="456.15" x2="388.50" y2="456.15" stroke="#3c3c3c" stroke-width="1"/>
<line x1="385.50" y1="450.18" x2="388.50" y2="450.18" stroke="#3c3c3c" stroke-width="1"/>
<line x1="385.50" y1="444.20" x2="391.80" y2="444.20" stroke="#3c3c3c" stroke-width="1"/>
<line x1="385.50" y1="438.23" x2="388.50" y2="438.23" stroke="#3c3c3c" stroke-width="1"/>
<line x1="385.50" y1="432.25" x2="388.50" y2="432.25" stroke="#3c3c3c" stroke-width="1"/>
<line x1="385.50" y1="426.27" x2="388.50" y2="426.27" stroke="#3c3c3c" stroke-width="1"/>
<line x1="385.50" y1="420.30" x2="391.80" y2="420.30" stroke="#3c3c3c" stroke-width="1"/>
<line x1="385.50" y1="414.32" x2="388.50" y2="414.32" stroke="#3c3c3c" stroke-width="1"/>
<line x1="385.50" y1="408.35" x2="388.50" y2="408.35" stroke="#3c3c3c" stroke-width="1"/>
<line x1="385.50" y1="402.38" x2="388.50" y2="402.38" stroke="#3c3c3c" stroke-width="1"/>
<line x1="385.50" y1="396.40" x2="391.80" y2="396.40" stroke="#3c3c3c" stroke-width="1"/>
<line x1="385.50" y1="390.43" x2="388.50" y2="390.43" stroke="#3c3c3c" stroke-width="1"/>
<line x1="385.50" y1="384.45" x2="388.50" y2="384.45" stroke="#3c3c3c" stroke-width="1"/>
<line x1="385.50" y1="378.48" x2="388.50" y2="378.48" stroke="#3c3c3c" stroke-width="1"/>
<line x1="385.50" y1="372.50" x2="391.80" y2="372.50" stroke="#3c3c3c" stroke-width="1"/>
<text x="383.90" y="377.10" font-size="9.6" text-anchor="end" font-family='"Liberation Serif", serif' font-weight="normal" stroke="#000" stroke-width="0.18" >10</text>
<text x="383.90" y="401.00" font-size="9.6" text-anchor="end" font-family='"Liberation Serif", serif' font-weight="normal" stroke="#000" stroke-width="0.18" >8</text>
<text x="383.90" y="424.90" font-size="9.6" text-anchor="end" font-family='"Liberation Serif", serif' font-weight="normal" stroke="#000" stroke-width="0.18" >6</text>
<text x="383.90" y="448.80" font-size="9.6" text-anchor="end" font-family='"Liberation Serif", serif' font-weight="normal" stroke="#000" stroke-width="0.18" >4</text>
<text x="383.90" y="472.70" font-size="9.6" text-anchor="end" font-family='"Liberation Serif", serif' font-weight="normal" stroke="#000" stroke-width="0.18" >2</text>
<text x="383.90" y="493.60" font-size="9.6" text-anchor="end" font-family='"Liberation Serif", serif' font-weight="normal" stroke="#000" stroke-width="0.18" >0</text>
<line x1="411.50" y1="487.50" x2="411.50" y2="492.00" stroke="#3c3c3c" stroke-width="1"/>
<line x1="437.50" y1="487.50" x2="437.50" y2="492.00" stroke="#3c3c3c" stroke-width="1"/>
<line x1="463.50" y1="487.50" x2="463.50" y2="492.00" stroke="#3c3c3c" stroke-width="1"/>
<line x1="489.50" y1="487.50" x2="489.50" y2="492.00" stroke="#3c3c3c" stroke-width="1"/>
<line x1="515.50" y1="487.50" x2="515.50" y2="492.00" stroke="#3c3c3c" stroke-width="1"/>
<rect x="389.15" y="484.50" width="17.9" height="7.50" fill="#000"/>
<line x1="398.10" y1="482.50" x2="398.10" y2="484.50" stroke="#3c3c3c" stroke-width="1"/>
<line x1="394.80" y1="482.50" x2="401.40" y2="482.50" stroke="#3c3c3c" stroke-width="1"/>
<rect x="415.15" y="463.10" width="17.9" height="28.90" fill="#000"/>
<line x1="424.10" y1="457.00" x2="424.10" y2="463.10" stroke="#3c3c3c" stroke-width="1"/>
<line x1="420.80" y1="457.00" x2="427.40" y2="457.00" stroke="#3c3c3c" stroke-width="1"/>
<rect x="441.15" y="489.20" width="17.9" height="2.80" fill="#000"/>
<line x1="450.10" y1="487.20" x2="450.10" y2="489.20" stroke="#3c3c3c" stroke-width="1"/>
<line x1="446.80" y1="487.20" x2="453.40" y2="487.20" stroke="#3c3c3c" stroke-width="1"/>
<rect x="467.15" y="463.10" width="17.9" height="28.90" fill="#000"/>
<line x1="476.10" y1="457.70" x2="476.10" y2="463.10" stroke="#3c3c3c" stroke-width="1"/>
<line x1="472.80" y1="457.70" x2="479.40" y2="457.70" stroke="#3c3c3c" stroke-width="1"/>
<rect x="493.15" y="487.80" width="17.9" height="4.20" fill="#000"/>
<line x1="502.10" y1="486.20" x2="502.10" y2="487.80" stroke="#3c3c3c" stroke-width="1"/>
<line x1="498.80" y1="486.20" x2="505.40" y2="486.20" stroke="#3c3c3c" stroke-width="1"/>
<line x1="422.70" y1="451.60" x2="500.20" y2="451.60" stroke="#3c3c3c" stroke-width="1"/>
<line x1="423.20" y1="451.60" x2="423.20" y2="454.10" stroke="#3c3c3c" stroke-width="1"/>
<line x1="449.30" y1="451.60" x2="449.30" y2="456.00" stroke="#3c3c3c" stroke-width="1"/>
<line x1="499.70" y1="451.60" x2="499.70" y2="456.00" stroke="#3c3c3c" stroke-width="1"/>
<line x1="451.00" y1="459.60" x2="451.00" y2="466.20" stroke="#000" stroke-width="1.5"/>
<line x1="448.14" y1="461.25" x2="453.86" y2="464.55" stroke="#000" stroke-width="1.5"/>
<line x1="448.14" y1="464.55" x2="453.86" y2="461.25" stroke="#000" stroke-width="1.5"/>
<line x1="501.60" y1="459.60" x2="501.60" y2="466.20" stroke="#000" stroke-width="1.5"/>
<line x1="498.74" y1="461.25" x2="504.46" y2="464.55" stroke="#000" stroke-width="1.5"/>
<line x1="498.74" y1="464.55" x2="504.46" y2="461.25" stroke="#000" stroke-width="1.5"/>
<text x="385.20" y="505.00" font-size="10" text-anchor="end" font-family='"Liberation Sans", sans-serif' font-weight="normal" stroke="#000" stroke-width="0.3" >IL-8</text>
<text x="398.10" y="505.30" font-size="10" text-anchor="middle" font-family='"Liberation Sans", sans-serif' font-weight="normal" stroke="#000" stroke-width="0.7" >-</text>
<text x="424.10" y="505.30" font-size="9.6" text-anchor="middle" font-family='"Liberation Sans", sans-serif' font-weight="normal" stroke="#000" stroke-width="0.45" >+</text>
<text x="450.10" y="505.30" font-size="9.6" text-anchor="middle" font-family='"Liberation Sans", sans-serif' font-weight="normal" stroke="#000" stroke-width="0.45" >+</text>
<text x="476.10" y="505.30" font-size="9.6" text-anchor="middle" font-family='"Liberation Sans", sans-serif' font-weight="normal" stroke="#000" stroke-width="0.45" >+</text>
<text x="502.10" y="505.30" font-size="9.6" text-anchor="middle" font-family='"Liberation Sans", sans-serif' font-weight="normal" stroke="#000" stroke-width="0.45" >+</text>
<text x="385.20" y="519.20" font-size="10" text-anchor="end" font-family='"Liberation Sans", sans-serif' font-weight="normal" stroke="#000" stroke-width="0.3" >WTM</text>
<text x="398.10" y="519.50" font-size="10" text-anchor="middle" font-family='"Liberation Sans", sans-serif' font-weight="normal" stroke="#000" stroke-width="0.7" >-</text>
<text x="424.10" y="519.50" font-size="10" text-anchor="middle" font-family='"Liberation Sans", sans-serif' font-weight="normal" stroke="#000" stroke-width="0.7" >-</text>
<text x="450.10" y="519.50" font-size="9.6" text-anchor="middle" font-family='"Liberation Sans", sans-serif' font-weight="normal" stroke="#000" stroke-width="0.45" >+</text>
<text x="476.10" y="519.50" font-size="10" text-anchor="middle" font-family='"Liberation Sans", sans-serif' font-weight="normal" stroke="#000" stroke-width="0.7" >-</text>
<text x="502.10" y="519.50" font-size="9.6" text-anchor="middle" font-family='"Liberation Sans", sans-serif' font-weight="normal" stroke="#000" stroke-width="0.45" >+</text>
<text x="385.20" y="533.00" font-size="10" text-anchor="end" font-family='"Liberation Sans", sans-serif' font-weight="normal" stroke="#000" stroke-width="0.3" >SH2</text>
<text x="398.10" y="533.30" font-size="10" text-anchor="middle" font-family='"Liberation Sans", sans-serif' font-weight="normal" stroke="#000" stroke-width="0.7" >-</text>
<text x="424.10" y="533.30" font-size="10" text-anchor="middle" font-family='"Liberation Sans", sans-serif' font-weight="normal" stroke="#000" stroke-width="0.7" >-</text>
<text x="450.10" y="533.30" font-size="10" text-anchor="middle" font-family='"Liberation Sans", sans-serif' font-weight="normal" stroke="#000" stroke-width="0.7" >-</text>
<text x="476.10" y="533.30" font-size="9.6" text-anchor="middle" font-family='"Liberation Sans", sans-serif' font-weight="normal" stroke="#000" stroke-width="0.45" >+</text>
<text x="502.10" y="533.30" font-size="9.6" text-anchor="middle" font-family='"Liberation Sans", sans-serif' font-weight="normal" stroke="#000" stroke-width="0.45" >+</text>
<line x1="39.10" y1="222.90" x2="39.10" y2="344.60" stroke="#3c3c3c" stroke-width="1"/>
<line x1="38.60" y1="344.10" x2="170.10" y2="344.10" stroke="#3c3c3c" stroke-width="1"/>
<text x="37.30" y="345.70" font-size="9.8" text-anchor="end" font-family='"Liberation Serif", serif' font-weight="normal" stroke="#000" stroke-width="0.18" >0.5</text>
<line x1="39.10" y1="319.20" x2="43.60" y2="319.20" stroke="#3c3c3c" stroke-width="1"/>
<text x="37.30" y="324.10" font-size="9.8" text-anchor="end" font-family='"Liberation Serif", serif' font-weight="normal" stroke="#000" stroke-width="0.18" >1.0</text>
<line x1="39.10" y1="295.25" x2="43.60" y2="295.25" stroke="#3c3c3c" stroke-width="1"/>
<text x="37.30" y="300.15" font-size="9.8" text-anchor="end" font-family='"Liberation Serif", serif' font-weight="normal" stroke="#000" stroke-width="0.18" >1.5</text>
<line x1="39.10" y1="271.30" x2="43.60" y2="271.30" stroke="#3c3c3c" stroke-width="1"/>
<text x="37.30" y="276.20" font-size="9.8" text-anchor="end" font-family='"Liberation Serif", serif' font-weight="normal" stroke="#000" stroke-width="0.18" >2.0</text>
<line x1="39.10" y1="247.35" x2="43.60" y2="247.35" stroke="#3c3c3c" stroke-width="1"/>
<text x="37.30" y="252.25" font-size="9.8" text-anchor="end" font-family='"Liberation Serif", serif' font-weight="normal" stroke="#000" stroke-width="0.18" >2.5</text>
<line x1="39.10" y1="223.40" x2="43.60" y2="223.40" stroke="#3c3c3c" stroke-width="1"/>
<text x="37.30" y="228.30" font-size="9.8" text-anchor="end" font-family='"Liberation Serif", serif' font-weight="normal" stroke="#000" stroke-width="0.18" >3.0</text>
<line x1="45.60" y1="339.10" x2="45.60" y2="344.10" stroke="#3c3c3c" stroke-width="1"/>
<line x1="52.10" y1="339.10" x2="52.10" y2="344.10" stroke="#3c3c3c" stroke-width="1"/>
<line x1="65.10" y1="339.10" x2="65.10" y2="344.10" stroke="#3c3c3c" stroke-width="1"/>
<line x1="84.60" y1="339.10" x2="84.60" y2="344.10" stroke="#3c3c3c" stroke-width="1"/>
<line x1="123.60" y1="339.10" x2="123.60" y2="344.10" stroke="#3c3c3c" stroke-width="1"/>
<line x1="163.40" y1="339.10" x2="163.40" y2="344.10" stroke="#3c3c3c" stroke-width="1"/>
<line x1="170.10" y1="339.10" x2="170.10" y2="344.10" stroke="#3c3c3c" stroke-width="1"/>
<rect x="141.10" y="341.10" width="3.5" height="6" fill="#fff"/>
<line x1="140.90" y1="346.60" x2="142.30" y2="341.60" stroke="#3c3c3c" stroke-width="0.9"/>
<line x1="143.30" y1="346.60" x2="144.70" y2="341.60" stroke="#3c3c3c" stroke-width="0.9"/>
<text x="44.60" y="354.60" font-size="10" text-anchor="middle" font-family='"Liberation Serif", serif' font-weight="normal" stroke="#000" stroke-width="0.18" >0</text>
<text x="53.50" y="354.60" font-size="10" text-anchor="middle" font-family='"Liberation Serif", serif' font-weight="normal" stroke="#000" stroke-width="0.18" >10</text>
<text x="65.10" y="354.60" font-size="10" text-anchor="middle" font-family='"Liberation Serif", serif' font-weight="normal" stroke="#000" stroke-width="0.18" >30</text>
<text x="84.60" y="354.60" font-size="10" text-anchor="middle" font-family='"Liberation Serif", serif' font-weight="normal" stroke="#000" stroke-width="0.18" >60</text>
<text x="123.60" y="354.60" font-size="10" text-anchor="middle" font-family='"Liberation Serif", serif' font-weight="normal" stroke="#000" stroke-width="0.18" >120</text>
<text x="163.40" y="354.60" font-size="10" text-anchor="middle" font-family='"Liberation Serif", serif' font-weight="normal" stroke="#000" stroke-width="0.18" >240</text>
<text x="104.30" y="364.40" font-size="10.1" text-anchor="middle" font-family='"Liberation Sans", sans-serif' font-weight="normal" stroke="#000" stroke-width="0.3" >Time, seconds</text>
<polyline points="45.60,319.50 52.10,281.20 65.10,280.90 84.60,285.90 123.60,289.30 163.40,288.30" fill="none" stroke="#000" stroke-width="1.4"/>
<rect x="141.90" y="287.21" width="2.2" height="3.2" fill="#fff"/>
<line x1="141.20" y1="290.61" x2="142.20" y2="287.01" stroke="#555" stroke-width="0.6"/>
<line x1="143.90" y1="290.61" x2="144.90" y2="287.01" stroke="#555" stroke-width="0.6"/>
<polyline points="45.60,324.20 52.10,284.00 65.10,291.20 84.60,292.30 123.60,301.10 163.40,304.20" fill="none" stroke="#000" stroke-width="1.4"/>
<rect x="141.90" y="301.02" width="2.2" height="3.2" fill="#fff"/>
<line x1="141.20" y1="304.42" x2="142.20" y2="300.82" stroke="#555" stroke-width="0.6"/>
<line x1="143.90" y1="304.42" x2="144.90" y2="300.82" stroke="#555" stroke-width="0.6"/>
<polyline points="45.60,322.90 52.10,284.50 65.10,298.00 84.60,304.70 123.60,312.30 163.40,320.50" fill="none" stroke="#000" stroke-width="1.4"/>
<rect x="141.90" y="314.72" width="2.2" height="3.2" fill="#fff"/>
<line x1="141.20" y1="318.12" x2="142.20" y2="314.52" stroke="#555" stroke-width="0.6"/>
<line x1="143.90" y1="318.12" x2="144.90" y2="314.52" stroke="#555" stroke-width="0.6"/>
<polyline points="45.60,327.20 52.10,287.00 65.10,301.30 84.60,306.50 123.60,318.50 163.40,322.80" fill="none" stroke="#000" stroke-width="1.4"/>
<rect x="141.90" y="319.01" width="2.2" height="3.2" fill="#fff"/>
<line x1="141.20" y1="322.41" x2="142.20" y2="318.81" stroke="#555" stroke-width="0.6"/>
<line x1="143.90" y1="322.41" x2="144.90" y2="318.81" stroke="#555" stroke-width="0.6"/>
<line x1="45.60" y1="314.50" x2="45.60" y2="324.50" stroke="#444" stroke-width="0.8"/>
<line x1="44.10" y1="314.50" x2="47.10" y2="314.50" stroke="#444" stroke-width="0.8"/>
<line x1="44.10" y1="324.50" x2="47.10" y2="324.50" stroke="#444" stroke-width="0.8"/>
<line x1="52.10" y1="276.20" x2="52.10" y2="286.20" stroke="#444" stroke-width="0.8"/>
<line x1="50.60" y1="276.20" x2="53.60" y2="276.20" stroke="#444" stroke-width="0.8"/>
<line x1="50.60" y1="286.20" x2="53.60" y2="286.20" stroke="#444" stroke-width="0.8"/>
<line x1="65.10" y1="275.90" x2="65.10" y2="285.90" stroke="#444" stroke-width="0.8"/>
<line x1="63.60" y1="275.90" x2="66.60" y2="275.90" stroke="#444" stroke-width="0.8"/>
<line x1="63.60" y1="285.90" x2="66.60" y2="285.90" stroke="#444" stroke-width="0.8"/>
<line x1="84.60" y1="280.90" x2="84.60" y2="290.90" stroke="#444" stroke-width="0.8"/>
<line x1="83.10" y1="280.90" x2="86.10" y2="280.90" stroke="#444" stroke-width="0.8"/>
<line x1="83.10" y1="290.90" x2="86.10" y2="290.90" stroke="#444" stroke-width="0.8"/>
<line x1="123.60" y1="284.30" x2="123.60" y2="294.30" stroke="#444" stroke-width="0.8"/>
<line x1="122.10" y1="284.30" x2="125.10" y2="284.30" stroke="#444" stroke-width="0.8"/>
<line x1="122.10" y1="294.30" x2="125.10" y2="294.30" stroke="#444" stroke-width="0.8"/>
<line x1="163.40" y1="283.30" x2="163.40" y2="293.30" stroke="#444" stroke-width="0.8"/>
<line x1="161.90" y1="283.30" x2="164.90" y2="283.30" stroke="#444" stroke-width="0.8"/>
<line x1="161.90" y1="293.30" x2="164.90" y2="293.30" stroke="#444" stroke-width="0.8"/>
<line x1="45.60" y1="319.20" x2="45.60" y2="329.20" stroke="#444" stroke-width="0.8"/>
<line x1="44.10" y1="319.20" x2="47.10" y2="319.20" stroke="#444" stroke-width="0.8"/>
<line x1="44.10" y1="329.20" x2="47.10" y2="329.20" stroke="#444" stroke-width="0.8"/>
<line x1="52.10" y1="279.00" x2="52.10" y2="289.00" stroke="#444" stroke-width="0.8"/>
<line x1="50.60" y1="279.00" x2="53.60" y2="279.00" stroke="#444" stroke-width="0.8"/>
<line x1="50.60" y1="289.00" x2="53.60" y2="289.00" stroke="#444" stroke-width="0.8"/>
<line x1="65.10" y1="286.20" x2="65.10" y2="296.20" stroke="#444" stroke-width="0.8"/>
<line x1="63.60" y1="286.20" x2="66.60" y2="286.20" stroke="#444" stroke-width="0.8"/>
<line x1="63.60" y1="296.20" x2="66.60" y2="296.20" stroke="#444" stroke-width="0.8"/>
<line x1="84.60" y1="287.30" x2="84.60" y2="297.30" stroke="#444" stroke-width="0.8"/>
<line x1="83.10" y1="287.30" x2="86.10" y2="287.30" stroke="#444" stroke-width="0.8"/>
<line x1="83.10" y1="297.30" x2="86.10" y2="297.30" stroke="#444" stroke-width="0.8"/>
<line x1="123.60" y1="296.10" x2="123.60" y2="306.10" stroke="#444" stroke-width="0.8"/>
<line x1="122.10" y1="296.10" x2="125.10" y2="296.10" stroke="#444" stroke-width="0.8"/>
<line x1="122.10" y1="306.10" x2="125.10" y2="306.10" stroke="#444" stroke-width="0.8"/>
<line x1="163.40" y1="299.20" x2="163.40" y2="309.20" stroke="#444" stroke-width="0.8"/>
<line x1="161.90" y1="299.20" x2="164.90" y2="299.20" stroke="#444" stroke-width="0.8"/>
<line x1="161.90" y1="309.20" x2="164.90" y2="309.20" stroke="#444" stroke-width="0.8"/>
<line x1="45.60" y1="317.90" x2="45.60" y2="327.90" stroke="#444" stroke-width="0.8"/>
<line x1="44.10" y1="317.90" x2="47.10" y2="317.90" stroke="#444" stroke-width="0.8"/>
<line x1="44.10" y1="327.90" x2="47.10" y2="327.90" stroke="#444" stroke-width="0.8"/>
<line x1="52.10" y1="279.50" x2="52.10" y2="289.50" stroke="#444" stroke-width="0.8"/>
<line x1="50.60" y1="279.50" x2="53.60" y2="279.50" stroke="#444" stroke-width="0.8"/>
<line x1="50.60" y1="289.50" x2="53.60" y2="289.50" stroke="#444" stroke-width="0.8"/>
<line x1="65.10" y1="293.00" x2="65.10" y2="303.00" stroke="#444" stroke-width="0.8"/>
<line x1="63.60" y1="293.00" x2="66.60" y2="293.00" stroke="#444" stroke-width="0.8"/>
<line x1="63.60" y1="303.00" x2="66.60" y2="303.00" stroke="#444" stroke-width="0.8"/>
<line x1="84.60" y1="299.70" x2="84.60" y2="309.70" stroke="#444" stroke-width="0.8"/>
<line x1="83.10" y1="299.70" x2="86.10" y2="299.70" stroke="#444" stroke-width="0.8"/>
<line x1="83.10" y1="309.70" x2="86.10" y2="309.70" stroke="#444" stroke-width="0.8"/>
<line x1="123.60" y1="307.30" x2="123.60" y2="317.30" stroke="#444" stroke-width="0.8"/>
<line x1="122.10" y1="307.30" x2="125.10" y2="307.30" stroke="#444" stroke-width="0.8"/>
<line x1="122.10" y1="317.30" x2="125.10" y2="317.30" stroke="#444" stroke-width="0.8"/>
<line x1="163.40" y1="315.50" x2="163.40" y2="325.50" stroke="#444" stroke-width="0.8"/>
<line x1="161.90" y1="315.50" x2="164.90" y2="315.50" stroke="#444" stroke-width="0.8"/>
<line x1="161.90" y1="325.50" x2="164.90" y2="325.50" stroke="#444" stroke-width="0.8"/>
<line x1="45.60" y1="322.20" x2="45.60" y2="332.20" stroke="#444" stroke-width="0.8"/>
<line x1="44.10" y1="322.20" x2="47.10" y2="322.20" stroke="#444" stroke-width="0.8"/>
<line x1="44.10" y1="332.20" x2="47.10" y2="332.20" stroke="#444" stroke-width="0.8"/>
<line x1="52.10" y1="282.00" x2="52.10" y2="292.00" stroke="#444" stroke-width="0.8"/>
<line x1="50.60" y1="282.00" x2="53.60" y2="282.00" stroke="#444" stroke-width="0.8"/>
<line x1="50.60" y1="292.00" x2="53.60" y2="292.00" stroke="#444" stroke-width="0.8"/>
<line x1="65.10" y1="296.30" x2="65.10" y2="306.30" stroke="#444" stroke-width="0.8"/>
<line x1="63.60" y1="296.30" x2="66.60" y2="296.30" stroke="#444" stroke-width="0.8"/>
<line x1="63.60" y1="306.30" x2="66.60" y2="306.30" stroke="#444" stroke-width="0.8"/>
<line x1="84.60" y1="301.50" x2="84.60" y2="311.50" stroke="#444" stroke-width="0.8"/>
<line x1="83.10" y1="301.50" x2="86.10" y2="301.50" stroke="#444" stroke-width="0.8"/>
<line x1="83.10" y1="311.50" x2="86.10" y2="311.50" stroke="#444" stroke-width="0.8"/>
<line x1="123.60" y1="313.50" x2="123.60" y2="323.50" stroke="#444" stroke-width="0.8"/>
<line x1="122.10" y1="313.50" x2="125.10" y2="313.50" stroke="#444" stroke-width="0.8"/>
<line x1="122.10" y1="323.50" x2="125.10" y2="323.50" stroke="#444" stroke-width="0.8"/>
<line x1="163.40" y1="317.80" x2="163.40" y2="327.80" stroke="#444" stroke-width="0.8"/>
<line x1="161.90" y1="317.80" x2="164.90" y2="317.80" stroke="#444" stroke-width="0.8"/>
<line x1="161.90" y1="327.80" x2="164.90" y2="327.80" stroke="#444" stroke-width="0.8"/>
<path d="M45.60 324.00 L48.60 329.40 L42.60 329.40 Z" fill="#000"/>
<path d="M52.10 283.80 L55.10 289.20 L49.10 289.20 Z" fill="#000"/>
<path d="M65.10 298.10 L68.10 303.50 L62.10 303.50 Z" fill="#000"/>
<path d="M84.60 303.30 L87.60 308.70 L81.60 308.70 Z" fill="#000"/>
<path d="M123.60 315.30 L126.60 320.70 L120.60 320.70 Z" fill="#000"/>
<path d="M163.40 319.60 L166.40 325.00 L160.40 325.00 Z" fill="#000"/>
<rect x="42.90" y="320.20" width="5.4" height="5.4" fill="#000"/>
<rect x="49.40" y="281.80" width="5.4" height="5.4" fill="#000"/>
<rect x="62.40" y="295.30" width="5.4" height="5.4" fill="#000"/>
<rect x="81.90" y="302.00" width="5.4" height="5.4" fill="#000"/>
<rect x="120.90" y="309.60" width="5.4" height="5.4" fill="#000"/>
<rect x="160.70" y="317.80" width="5.4" height="5.4" fill="#000"/>
<circle cx="45.60" cy="324.20" r="2.7" fill="#000"/>
<circle cx="52.10" cy="284.00" r="2.7" fill="#000"/>
<circle cx="65.10" cy="291.20" r="2.7" fill="#000"/>
<circle cx="84.60" cy="292.30" r="2.7" fill="#000"/>
<circle cx="123.60" cy="301.10" r="2.7" fill="#000"/>
<circle cx="163.40" cy="304.20" r="2.7" fill="#000"/>
<circle cx="45.60" cy="319.50" r="2.6" fill="#fff" stroke="#000" stroke-width="1.2"/>
<circle cx="52.10" cy="281.20" r="2.6" fill="#fff" stroke="#000" stroke-width="1.2"/>
<circle cx="65.10" cy="280.90" r="2.6" fill="#fff" stroke="#000" stroke-width="1.2"/>
<circle cx="84.60" cy="285.90" r="2.6" fill="#fff" stroke="#000" stroke-width="1.2"/>
<circle cx="123.60" cy="289.30" r="2.6" fill="#fff" stroke="#000" stroke-width="1.2"/>
<circle cx="163.40" cy="288.30" r="2.6" fill="#fff" stroke="#000" stroke-width="1.2"/>
<circle cx="114.10" cy="224.20" r="2.1" fill="#fff" stroke="#000" stroke-width="1.0"/>
<text x="119.90" y="227.10" font-size="8.4" text-anchor="start" font-family='"Liberation Sans", sans-serif' font-weight="normal" stroke="#000" stroke-width="0.45" >Control</text>
<rect x="111.90" y="234.00" width="4.4" height="4.6" fill="#000"/>
<line x1="120.65" y1="236.10" x2="124.35" y2="236.10" stroke="#111" stroke-width="1.25"/>
<line x1="122.50" y1="234.25" x2="122.50" y2="237.95" stroke="#111" stroke-width="1.25"/>
<text x="127.10" y="239.10" font-size="8.4" text-anchor="start" font-family='"Liberation Sans", sans-serif' font-weight="normal" stroke="#000" stroke-width="0.45" >WTM</text>
<circle cx="114.10" cy="248.20" r="2.2" fill="#000"/>
<line x1="120.65" y1="248.10" x2="124.35" y2="248.10" stroke="#111" stroke-width="1.25"/>
<line x1="122.50" y1="246.25" x2="122.50" y2="249.95" stroke="#111" stroke-width="1.25"/>
<text x="127.10" y="251.10" font-size="8.4" text-anchor="start" font-family='"Liberation Sans", sans-serif' font-weight="normal" stroke="#000" stroke-width="0.45" >SH2</text>
<path d="M114.10 257.40 L116.80 262.30 L111.40 262.30 Z" fill="#000"/>
<line x1="120.65" y1="260.10" x2="124.35" y2="260.10" stroke="#111" stroke-width="1.25"/>
<line x1="122.50" y1="258.25" x2="122.50" y2="261.95" stroke="#111" stroke-width="1.25"/>
<text x="127.10" y="263.10" font-size="8.4" text-anchor="start" font-family='"Liberation Sans", sans-serif' font-weight="normal" stroke="#000" stroke-width="0.45" >WTM</text>
<line x1="150.25" y1="260.10" x2="153.95" y2="260.10" stroke="#111" stroke-width="1.25"/>
<line x1="152.10" y1="258.25" x2="152.10" y2="261.95" stroke="#111" stroke-width="1.25"/>
<text x="156.90" y="263.10" font-size="8.4" text-anchor="start" font-family='"Liberation Sans", sans-serif' font-weight="normal" stroke="#000" stroke-width="0.45" >SH2</text>
<line x1="212.70" y1="222.90" x2="212.70" y2="344.60" stroke="#3c3c3c" stroke-width="1"/>
<line x1="212.20" y1="344.10" x2="343.70" y2="344.10" stroke="#3c3c3c" stroke-width="1"/>
<text x="210.90" y="345.70" font-size="9.8" text-anchor="end" font-family='"Liberation Serif", serif' font-weight="normal" stroke="#000" stroke-width="0.18" >0.5</text>
<line x1="212.70" y1="319.20" x2="217.20" y2="319.20" stroke="#3c3c3c" stroke-width="1"/>
<text x="210.90" y="324.10" font-size="9.8" text-anchor="end" font-family='"Liberation Serif", serif' font-weight="normal" stroke="#000" stroke-width="0.18" >1.0</text>
<line x1="212.70" y1="295.25" x2="217.20" y2="295.25" stroke="#3c3c3c" stroke-width="1"/>
<text x="210.90" y="300.15" font-size="9.8" text-anchor="end" font-family='"Liberation Serif", serif' font-weight="normal" stroke="#000" stroke-width="0.18" >1.5</text>
<line x1="212.70" y1="271.30" x2="217.20" y2="271.30" stroke="#3c3c3c" stroke-width="1"/>
<text x="210.90" y="276.20" font-size="9.8" text-anchor="end" font-family='"Liberation Serif", serif' font-weight="normal" stroke="#000" stroke-width="0.18" >2.0</text>
<line x1="212.70" y1="247.35" x2="217.20" y2="247.35" stroke="#3c3c3c" stroke-width="1"/>
<text x="210.90" y="252.25" font-size="9.8" text-anchor="end" font-family='"Liberation Serif", serif' font-weight="normal" stroke="#000" stroke-width="0.18" >2.5</text>
<line x1="212.70" y1="223.40" x2="217.20" y2="223.40" stroke="#3c3c3c" stroke-width="1"/>
<text x="210.90" y="228.30" font-size="9.8" text-anchor="end" font-family='"Liberation Serif", serif' font-weight="normal" stroke="#000" stroke-width="0.18" >3.0</text>
<line x1="219.20" y1="339.10" x2="219.20" y2="344.10" stroke="#3c3c3c" stroke-width="1"/>
<line x1="225.70" y1="339.10" x2="225.70" y2="344.10" stroke="#3c3c3c" stroke-width="1"/>
<line x1="238.70" y1="339.10" x2="238.70" y2="344.10" stroke="#3c3c3c" stroke-width="1"/>
<line x1="258.20" y1="339.10" x2="258.20" y2="344.10" stroke="#3c3c3c" stroke-width="1"/>
<line x1="297.20" y1="339.10" x2="297.20" y2="344.10" stroke="#3c3c3c" stroke-width="1"/>
<line x1="337.00" y1="339.10" x2="337.00" y2="344.10" stroke="#3c3c3c" stroke-width="1"/>
<line x1="343.70" y1="339.10" x2="343.70" y2="344.10" stroke="#3c3c3c" stroke-width="1"/>
<rect x="314.70" y="341.10" width="3.5" height="6" fill="#fff"/>
<line x1="314.50" y1="346.60" x2="315.90" y2="341.60" stroke="#3c3c3c" stroke-width="0.9"/>
<line x1="316.90" y1="346.60" x2="318.30" y2="341.60" stroke="#3c3c3c" stroke-width="0.9"/>
<text x="218.20" y="354.60" font-size="10" text-anchor="middle" font-family='"Liberation Serif", serif' font-weight="normal" stroke="#000" stroke-width="0.18" >0</text>
<text x="227.10" y="354.60" font-size="10" text-anchor="middle" font-family='"Liberation Serif", serif' font-weight="normal" stroke="#000" stroke-width="0.18" >10</text>
<text x="238.70" y="354.60" font-size="10" text-anchor="middle" font-family='"Liberation Serif", serif' font-weight="normal" stroke="#000" stroke-width="0.18" >30</text>
<text x="258.20" y="354.60" font-size="10" text-anchor="middle" font-family='"Liberation Serif", serif' font-weight="normal" stroke="#000" stroke-width="0.18" >60</text>
<text x="297.20" y="354.60" font-size="10" text-anchor="middle" font-family='"Liberation Serif", serif' font-weight="normal" stroke="#000" stroke-width="0.18" >120</text>
<text x="337.00" y="354.60" font-size="10" text-anchor="middle" font-family='"Liberation Serif", serif' font-weight="normal" stroke="#000" stroke-width="0.18" >240</text>
<text x="277.90" y="364.40" font-size="10.1" text-anchor="middle" font-family='"Liberation Sans", sans-serif' font-weight="normal" stroke="#000" stroke-width="0.3" >Time, seconds</text>
<polyline points="219.20,321.10 225.70,253.20 238.70,253.20 258.20,276.40 297.20,281.20 337.00,284.40" fill="none" stroke="#000" stroke-width="1.4"/>
<rect x="315.50" y="281.17" width="2.2" height="3.2" fill="#fff"/>
<line x1="314.80" y1="284.57" x2="315.80" y2="280.97" stroke="#555" stroke-width="0.6"/>
<line x1="317.50" y1="284.57" x2="318.50" y2="280.97" stroke="#555" stroke-width="0.6"/>
<polyline points="219.20,309.50 225.70,263.80 238.70,281.00 258.20,286.70 297.20,285.90 337.00,295.10" fill="none" stroke="#000" stroke-width="1.4"/>
<rect x="315.50" y="288.81" width="2.2" height="3.2" fill="#fff"/>
<line x1="314.80" y1="292.21" x2="315.80" y2="288.61" stroke="#555" stroke-width="0.6"/>
<line x1="317.50" y1="292.21" x2="318.50" y2="288.61" stroke="#555" stroke-width="0.6"/>
<polyline points="219.20,322.80 225.70,256.60 238.70,279.00 258.20,301.00 297.20,310.30 337.00,318.20" fill="none" stroke="#000" stroke-width="1.4"/>
<rect x="315.50" y="312.57" width="2.2" height="3.2" fill="#fff"/>
<line x1="314.80" y1="315.97" x2="315.80" y2="312.37" stroke="#555" stroke-width="0.6"/>
<line x1="317.50" y1="315.97" x2="318.50" y2="312.37" stroke="#555" stroke-width="0.6"/>
<polyline points="219.20,323.50 225.70,268.80 238.70,303.00 258.20,309.50 297.20,316.00 337.00,322.20" fill="none" stroke="#000" stroke-width="1.4"/>
<rect x="315.50" y="317.44" width="2.2" height="3.2" fill="#fff"/>
<line x1="314.80" y1="320.84" x2="315.80" y2="317.24" stroke="#555" stroke-width="0.6"/>
<line x1="317.50" y1="320.84" x2="318.50" y2="317.24" stroke="#555" stroke-width="0.6"/>
<line x1="219.20" y1="316.10" x2="219.20" y2="326.10" stroke="#444" stroke-width="0.8"/>
<line x1="217.70" y1="316.10" x2="220.70" y2="316.10" stroke="#444" stroke-width="0.8"/>
<line x1="217.70" y1="326.10" x2="220.70" y2="326.10" stroke="#444" stroke-width="0.8"/>
<line x1="225.70" y1="248.20" x2="225.70" y2="258.20" stroke="#444" stroke-width="0.8"/>
<line x1="224.20" y1="248.20" x2="227.20" y2="248.20" stroke="#444" stroke-width="0.8"/>
<line x1="224.20" y1="258.20" x2="227.20" y2="258.20" stroke="#444" stroke-width="0.8"/>
<line x1="238.70" y1="248.20" x2="238.70" y2="258.20" stroke="#444" stroke-width="0.8"/>
<line x1="237.20" y1="248.20" x2="240.20" y2="248.20" stroke="#444" stroke-width="0.8"/>
<line x1="237.20" y1="258.20" x2="240.20" y2="258.20" stroke="#444" stroke-width="0.8"/>
<line x1="258.20" y1="271.40" x2="258.20" y2="281.40" stroke="#444" stroke-width="0.8"/>
<line x1="256.70" y1="271.40" x2="259.70" y2="271.40" stroke="#444" stroke-width="0.8"/>
<line x1="256.70" y1="281.40" x2="259.70" y2="281.40" stroke="#444" stroke-width="0.8"/>
<line x1="297.20" y1="276.20" x2="297.20" y2="286.20" stroke="#444" stroke-width="0.8"/>
<line x1="295.70" y1="276.20" x2="298.70" y2="276.20" stroke="#444" stroke-width="0.8"/>
<line x1="295.70" y1="286.20" x2="298.70" y2="286.20" stroke="#444" stroke-width="0.8"/>
<line x1="337.00" y1="279.40" x2="337.00" y2="289.40" stroke="#444" stroke-width="0.8"/>
<line x1="335.50" y1="279.40" x2="338.50" y2="279.40" stroke="#444" stroke-width="0.8"/>
<line x1="335.50" y1="289.40" x2="338.50" y2="289.40" stroke="#444" stroke-width="0.8"/>
<line x1="219.20" y1="304.50" x2="219.20" y2="314.50" stroke="#444" stroke-width="0.8"/>
<line x1="217.70" y1="304.50" x2="220.70" y2="304.50" stroke="#444" stroke-width="0.8"/>
<line x1="217.70" y1="314.50" x2="220.70" y2="314.50" stroke="#444" stroke-width="0.8"/>
<line x1="225.70" y1="258.80" x2="225.70" y2="268.80" stroke="#444" stroke-width="0.8"/>
<line x1="224.20" y1="258.80" x2="227.20" y2="258.80" stroke="#444" stroke-width="0.8"/>
<line x1="224.20" y1="268.80" x2="227.20" y2="268.80" stroke="#444" stroke-width="0.8"/>
<line x1="238.70" y1="276.00" x2="238.70" y2="286.00" stroke="#444" stroke-width="0.8"/>
<line x1="237.20" y1="276.00" x2="240.20" y2="276.00" stroke="#444" stroke-width="0.8"/>
<line x1="237.20" y1="286.00" x2="240.20" y2="286.00" stroke="#444" stroke-width="0.8"/>
<line x1="258.20" y1="281.70" x2="258.20" y2="291.70" stroke="#444" stroke-width="0.8"/>
<line x1="256.70" y1="281.70" x2="259.70" y2="281.70" stroke="#444" stroke-width="0.8"/>
<line x1="256.70" y1="291.70" x2="259.70" y2="291.70" stroke="#444" stroke-width="0.8"/>
<line x1="297.20" y1="280.90" x2="297.20" y2="290.90" stroke="#444" stroke-width="0.8"/>
<line x1="295.70" y1="280.90" x2="298.70" y2="280.90" stroke="#444" stroke-width="0.8"/>
<line x1="295.70" y1="290.90" x2="298.70" y2="290.90" stroke="#444" stroke-width="0.8"/>
<line x1="337.00" y1="290.10" x2="337.00" y2="300.10" stroke="#444" stroke-width="0.8"/>
<line x1="335.50" y1="290.10" x2="338.50" y2="290.10" stroke="#444" stroke-width="0.8"/>
<line x1="335.50" y1="300.10" x2="338.50" y2="300.10" stroke="#444" stroke-width="0.8"/>
<line x1="219.20" y1="317.80" x2="219.20" y2="327.80" stroke="#444" stroke-width="0.8"/>
<line x1="217.70" y1="317.80" x2="220.70" y2="317.80" stroke="#444" stroke-width="0.8"/>
<line x1="217.70" y1="327.80" x2="220.70" y2="327.80" stroke="#444" stroke-width="0.8"/>
<line x1="225.70" y1="251.60" x2="225.70" y2="261.60" stroke="#444" stroke-width="0.8"/>
<line x1="224.20" y1="251.60" x2="227.20" y2="251.60" stroke="#444" stroke-width="0.8"/>
<line x1="224.20" y1="261.60" x2="227.20" y2="261.60" stroke="#444" stroke-width="0.8"/>
<line x1="238.70" y1="274.00" x2="238.70" y2="284.00" stroke="#444" stroke-width="0.8"/>
<line x1="237.20" y1="274.00" x2="240.20" y2="274.00" stroke="#444" stroke-width="0.8"/>
<line x1="237.20" y1="284.00" x2="240.20" y2="284.00" stroke="#444" stroke-width="0.8"/>
<line x1="258.20" y1="296.00" x2="258.20" y2="306.00" stroke="#444" stroke-width="0.8"/>
<line x1="256.70" y1="296.00" x2="259.70" y2="296.00" stroke="#444" stroke-width="0.8"/>
<line x1="256.70" y1="306.00" x2="259.70" y2="306.00" stroke="#444" stroke-width="0.8"/>
<line x1="297.20" y1="305.30" x2="297.20" y2="315.30" stroke="#444" stroke-width="0.8"/>
<line x1="295.70" y1="305.30" x2="298.70" y2="305.30" stroke="#444" stroke-width="0.8"/>
<line x1="295.70" y1="315.30" x2="298.70" y2="315.30" stroke="#444" stroke-width="0.8"/>
<line x1="337.00" y1="313.20" x2="337.00" y2="323.20" stroke="#444" stroke-width="0.8"/>
<line x1="335.50" y1="313.20" x2="338.50" y2="313.20" stroke="#444" stroke-width="0.8"/>
<line x1="335.50" y1="323.20" x2="338.50" y2="323.20" stroke="#444" stroke-width="0.8"/>
<line x1="219.20" y1="318.50" x2="219.20" y2="328.50" stroke="#444" stroke-width="0.8"/>
<line x1="217.70" y1="318.50" x2="220.70" y2="318.50" stroke="#444" stroke-width="0.8"/>
<line x1="217.70" y1="328.50" x2="220.70" y2="328.50" stroke="#444" stroke-width="0.8"/>
<line x1="225.70" y1="263.80" x2="225.70" y2="273.80" stroke="#444" stroke-width="0.8"/>
<line x1="224.20" y1="263.80" x2="227.20" y2="263.80" stroke="#444" stroke-width="0.8"/>
<line x1="224.20" y1="273.80" x2="227.20" y2="273.80" stroke="#444" stroke-width="0.8"/>
<line x1="238.70" y1="298.00" x2="238.70" y2="308.00" stroke="#444" stroke-width="0.8"/>
<line x1="237.20" y1="298.00" x2="240.20" y2="298.00" stroke="#444" stroke-width="0.8"/>
<line x1="237.20" y1="308.00" x2="240.20" y2="308.00" stroke="#444" stroke-width="0.8"/>
<line x1="258.20" y1="304.50" x2="258.20" y2="314.50" stroke="#444" stroke-width="0.8"/>
<line x1="256.70" y1="304.50" x2="259.70" y2="304.50" stroke="#444" stroke-width="0.8"/>
<line x1="256.70" y1="314.50" x2="259.70" y2="314.50" stroke="#444" stroke-width="0.8"/>
<line x1="297.20" y1="311.00" x2="297.20" y2="321.00" stroke="#444" stroke-width="0.8"/>
<line x1="295.70" y1="311.00" x2="298.70" y2="311.00" stroke="#444" stroke-width="0.8"/>
<line x1="295.70" y1="321.00" x2="298.70" y2="321.00" stroke="#444" stroke-width="0.8"/>
<line x1="337.00" y1="317.20" x2="337.00" y2="327.20" stroke="#444" stroke-width="0.8"/>
<line x1="335.50" y1="317.20" x2="338.50" y2="317.20" stroke="#444" stroke-width="0.8"/>
<line x1="335.50" y1="327.20" x2="338.50" y2="327.20" stroke="#444" stroke-width="0.8"/>
<path d="M219.20 320.30 L222.20 325.70 L216.20 325.70 Z" fill="#000"/>
<path d="M225.70 265.60 L228.70 271.00 L222.70 271.00 Z" fill="#000"/>
<path d="M238.70 299.80 L241.70 305.20 L235.70 305.20 Z" fill="#000"/>
<path d="M258.20 306.30 L261.20 311.70 L255.20 311.70 Z" fill="#000"/>
<path d="M297.20 312.80 L300.20 318.20 L294.20 318.20 Z" fill="#000"/>
<path d="M337.00 319.00 L340.00 324.40 L334.00 324.40 Z" fill="#000"/>
<rect x="216.50" y="320.10" width="5.4" height="5.4" fill="#000"/>
<rect x="223.00" y="253.90" width="5.4" height="5.4" fill="#000"/>
<rect x="236.00" y="276.30" width="5.4" height="5.4" fill="#000"/>
<rect x="255.50" y="298.30" width="5.4" height="5.4" fill="#000"/>
<rect x="294.50" y="307.60" width="5.4" height="5.4" fill="#000"/>
<rect x="334.30" y="315.50" width="5.4" height="5.4" fill="#000"/>
<circle cx="219.20" cy="309.50" r="2.7" fill="#000"/>
<circle cx="225.70" cy="263.80" r="2.7" fill="#000"/>
<circle cx="238.70" cy="281.00" r="2.7" fill="#000"/>
<circle cx="258.20" cy="286.70" r="2.7" fill="#000"/>
<circle cx="297.20" cy="285.90" r="2.7" fill="#000"/>
<circle cx="337.00" cy="295.10" r="2.7" fill="#000"/>
<circle cx="219.20" cy="321.10" r="2.6" fill="#fff" stroke="#000" stroke-width="1.2"/>
<circle cx="225.70" cy="253.20" r="2.6" fill="#fff" stroke="#000" stroke-width="1.2"/>
<circle cx="238.70" cy="253.20" r="2.6" fill="#fff" stroke="#000" stroke-width="1.2"/>
<circle cx="258.20" cy="276.40" r="2.6" fill="#fff" stroke="#000" stroke-width="1.2"/>
<circle cx="297.20" cy="281.20" r="2.6" fill="#fff" stroke="#000" stroke-width="1.2"/>
<circle cx="337.00" cy="284.40" r="2.6" fill="#fff" stroke="#000" stroke-width="1.2"/>
<circle cx="287.70" cy="224.20" r="2.1" fill="#fff" stroke="#000" stroke-width="1.0"/>
<text x="293.50" y="227.10" font-size="8.4" text-anchor="start" font-family='"Liberation Sans", sans-serif' font-weight="normal" stroke="#000" stroke-width="0.45" >Control</text>
<rect x="285.50" y="234.00" width="4.4" height="4.6" fill="#000"/>
<line x1="294.25" y1="236.10" x2="297.95" y2="236.10" stroke="#111" stroke-width="1.25"/>
<line x1="296.10" y1="234.25" x2="296.10" y2="237.95" stroke="#111" stroke-width="1.25"/>
<text x="300.70" y="239.10" font-size="8.4" text-anchor="start" font-family='"Liberation Sans", sans-serif' font-weight="normal" stroke="#000" stroke-width="0.45" >WTM</text>
<circle cx="287.70" cy="248.20" r="2.2" fill="#000"/>
<line x1="294.25" y1="248.10" x2="297.95" y2="248.10" stroke="#111" stroke-width="1.25"/>
<line x1="296.10" y1="246.25" x2="296.10" y2="249.95" stroke="#111" stroke-width="1.25"/>
<text x="300.70" y="251.10" font-size="8.4" text-anchor="start" font-family='"Liberation Sans", sans-serif' font-weight="normal" stroke="#000" stroke-width="0.45" >SH2</text>
<path d="M287.70 257.40 L290.40 262.30 L285.00 262.30 Z" fill="#000"/>
<line x1="294.25" y1="260.10" x2="297.95" y2="260.10" stroke="#111" stroke-width="1.25"/>
<line x1="296.10" y1="258.25" x2="296.10" y2="261.95" stroke="#111" stroke-width="1.25"/>
<text x="300.70" y="263.10" font-size="8.4" text-anchor="start" font-family='"Liberation Sans", sans-serif' font-weight="normal" stroke="#000" stroke-width="0.45" >WTM</text>
<line x1="323.85" y1="260.10" x2="327.55" y2="260.10" stroke="#111" stroke-width="1.25"/>
<line x1="325.70" y1="258.25" x2="325.70" y2="261.95" stroke="#111" stroke-width="1.25"/>
<text x="330.50" y="263.10" font-size="8.4" text-anchor="start" font-family='"Liberation Sans", sans-serif' font-weight="normal" stroke="#000" stroke-width="0.45" >SH2</text>
<line x1="385.00" y1="222.90" x2="385.00" y2="344.60" stroke="#3c3c3c" stroke-width="1"/>
<line x1="384.50" y1="344.10" x2="516.00" y2="344.10" stroke="#3c3c3c" stroke-width="1"/>
<text x="383.20" y="345.70" font-size="9.8" text-anchor="end" font-family='"Liberation Serif", serif' font-weight="normal" stroke="#000" stroke-width="0.18" >0.5</text>
<line x1="385.00" y1="319.20" x2="389.50" y2="319.20" stroke="#3c3c3c" stroke-width="1"/>
<text x="383.20" y="324.10" font-size="9.8" text-anchor="end" font-family='"Liberation Serif", serif' font-weight="normal" stroke="#000" stroke-width="0.18" >1.0</text>
<line x1="385.00" y1="295.25" x2="389.50" y2="295.25" stroke="#3c3c3c" stroke-width="1"/>
<text x="383.20" y="300.15" font-size="9.8" text-anchor="end" font-family='"Liberation Serif", serif' font-weight="normal" stroke="#000" stroke-width="0.18" >1.5</text>
<line x1="385.00" y1="271.30" x2="389.50" y2="271.30" stroke="#3c3c3c" stroke-width="1"/>
<text x="383.20" y="276.20" font-size="9.8" text-anchor="end" font-family='"Liberation Serif", serif' font-weight="normal" stroke="#000" stroke-width="0.18" >2.0</text>
<line x1="385.00" y1="247.35" x2="389.50" y2="247.35" stroke="#3c3c3c" stroke-width="1"/>
<text x="383.20" y="252.25" font-size="9.8" text-anchor="end" font-family='"Liberation Serif", serif' font-weight="normal" stroke="#000" stroke-width="0.18" >2.5</text>
<line x1="385.00" y1="223.40" x2="389.50" y2="223.40" stroke="#3c3c3c" stroke-width="1"/>
<text x="383.20" y="228.30" font-size="9.8" text-anchor="end" font-family='"Liberation Serif", serif' font-weight="normal" stroke="#000" stroke-width="0.18" >3.0</text>
<line x1="391.50" y1="339.10" x2="391.50" y2="344.10" stroke="#3c3c3c" stroke-width="1"/>
<line x1="398.00" y1="339.10" x2="398.00" y2="344.10" stroke="#3c3c3c" stroke-width="1"/>
<line x1="411.00" y1="339.10" x2="411.00" y2="344.10" stroke="#3c3c3c" stroke-width="1"/>
<line x1="430.50" y1="339.10" x2="430.50" y2="344.10" stroke="#3c3c3c" stroke-width="1"/>
<line x1="469.50" y1="339.10" x2="469.50" y2="344.10" stroke="#3c3c3c" stroke-width="1"/>
<line x1="509.30" y1="339.10" x2="509.30" y2="344.10" stroke="#3c3c3c" stroke-width="1"/>
<line x1="516.00" y1="339.10" x2="516.00" y2="344.10" stroke="#3c3c3c" stroke-width="1"/>
<rect x="487.00" y="341.10" width="3.5" height="6" fill="#fff"/>
<line x1="486.80" y1="346.60" x2="488.20" y2="341.60" stroke="#3c3c3c" stroke-width="0.9"/>
<line x1="489.20" y1="346.60" x2="490.60" y2="341.60" stroke="#3c3c3c" stroke-width="0.9"/>
<text x="390.50" y="354.60" font-size="10" text-anchor="middle" font-family='"Liberation Serif", serif' font-weight="normal" stroke="#000" stroke-width="0.18" >0</text>
<text x="399.40" y="354.60" font-size="10" text-anchor="middle" font-family='"Liberation Serif", serif' font-weight="normal" stroke="#000" stroke-width="0.18" >10</text>
<text x="411.00" y="354.60" font-size="10" text-anchor="middle" font-family='"Liberation Serif", serif' font-weight="normal" stroke="#000" stroke-width="0.18" >30</text>
<text x="430.50" y="354.60" font-size="10" text-anchor="middle" font-family='"Liberation Serif", serif' font-weight="normal" stroke="#000" stroke-width="0.18" >60</text>
<text x="469.50" y="354.60" font-size="10" text-anchor="middle" font-family='"Liberation Serif", serif' font-weight="normal" stroke="#000" stroke-width="0.18" >120</text>
<text x="509.30" y="354.60" font-size="10" text-anchor="middle" font-family='"Liberation Serif", serif' font-weight="normal" stroke="#000" stroke-width="0.18" >240</text>
<text x="450.20" y="364.40" font-size="10.1" text-anchor="middle" font-family='"Liberation Sans", sans-serif' font-weight="normal" stroke="#000" stroke-width="0.3" >Time, seconds</text>
<polyline points="391.50,314.10 398.00,257.20 411.00,259.10 430.50,275.60 469.50,284.40 509.30,288.90" fill="none" stroke="#000" stroke-width="1.4"/>
<rect x="487.80" y="285.00" width="2.2" height="3.2" fill="#fff"/>
<line x1="487.10" y1="288.40" x2="488.10" y2="284.80" stroke="#555" stroke-width="0.6"/>
<line x1="489.80" y1="288.40" x2="490.80" y2="284.80" stroke="#555" stroke-width="0.6"/>
<polyline points="391.50,321.00 398.00,268.50 411.00,292.90 430.50,299.20 469.50,305.20 509.30,309.50" fill="none" stroke="#000" stroke-width="1.4"/>
<rect x="487.80" y="305.71" width="2.2" height="3.2" fill="#fff"/>
<line x1="487.10" y1="309.11" x2="488.10" y2="305.51" stroke="#555" stroke-width="0.6"/>
<line x1="489.80" y1="309.11" x2="490.80" y2="305.51" stroke="#555" stroke-width="0.6"/>
<polyline points="391.50,318.50 398.00,266.70 411.00,288.60 430.50,286.10 469.50,294.20 509.30,303.30" fill="none" stroke="#000" stroke-width="1.4"/>
<rect x="487.80" y="297.06" width="2.2" height="3.2" fill="#fff"/>
<line x1="487.10" y1="300.46" x2="488.10" y2="296.86" stroke="#555" stroke-width="0.6"/>
<line x1="489.80" y1="300.46" x2="490.80" y2="296.86" stroke="#555" stroke-width="0.6"/>
<polyline points="391.50,322.50 398.00,282.70 411.00,304.60 430.50,308.30 469.50,315.40 509.30,322.10" fill="none" stroke="#000" stroke-width="1.4"/>
<rect x="487.80" y="317.08" width="2.2" height="3.2" fill="#fff"/>
<line x1="487.10" y1="320.48" x2="488.10" y2="316.88" stroke="#555" stroke-width="0.6"/>
<line x1="489.80" y1="320.48" x2="490.80" y2="316.88" stroke="#555" stroke-width="0.6"/>
<line x1="391.50" y1="309.10" x2="391.50" y2="319.10" stroke="#444" stroke-width="0.8"/>
<line x1="390.00" y1="309.10" x2="393.00" y2="309.10" stroke="#444" stroke-width="0.8"/>
<line x1="390.00" y1="319.10" x2="393.00" y2="319.10" stroke="#444" stroke-width="0.8"/>
<line x1="398.00" y1="252.20" x2="398.00" y2="262.20" stroke="#444" stroke-width="0.8"/>
<line x1="396.50" y1="252.20" x2="399.50" y2="252.20" stroke="#444" stroke-width="0.8"/>
<line x1="396.50" y1="262.20" x2="399.50" y2="262.20" stroke="#444" stroke-width="0.8"/>
<line x1="411.00" y1="254.10" x2="411.00" y2="264.10" stroke="#444" stroke-width="0.8"/>
<line x1="409.50" y1="254.10" x2="412.50" y2="254.10" stroke="#444" stroke-width="0.8"/>
<line x1="409.50" y1="264.10" x2="412.50" y2="264.10" stroke="#444" stroke-width="0.8"/>
<line x1="430.50" y1="270.60" x2="430.50" y2="280.60" stroke="#444" stroke-width="0.8"/>
<line x1="429.00" y1="270.60" x2="432.00" y2="270.60" stroke="#444" stroke-width="0.8"/>
<line x1="429.00" y1="280.60" x2="432.00" y2="280.60" stroke="#444" stroke-width="0.8"/>
<line x1="469.50" y1="279.40" x2="469.50" y2="289.40" stroke="#444" stroke-width="0.8"/>
<line x1="468.00" y1="279.40" x2="471.00" y2="279.40" stroke="#444" stroke-width="0.8"/>
<line x1="468.00" y1="289.40" x2="471.00" y2="289.40" stroke="#444" stroke-width="0.8"/>
<line x1="509.30" y1="283.90" x2="509.30" y2="293.90" stroke="#444" stroke-width="0.8"/>
<line x1="507.80" y1="283.90" x2="510.80" y2="283.90" stroke="#444" stroke-width="0.8"/>
<line x1="507.80" y1="293.90" x2="510.80" y2="293.90" stroke="#444" stroke-width="0.8"/>
<line x1="391.50" y1="316.00" x2="391.50" y2="326.00" stroke="#444" stroke-width="0.8"/>
<line x1="390.00" y1="316.00" x2="393.00" y2="316.00" stroke="#444" stroke-width="0.8"/>
<line x1="390.00" y1="326.00" x2="393.00" y2="326.00" stroke="#444" stroke-width="0.8"/>
<line x1="398.00" y1="263.50" x2="398.00" y2="273.50" stroke="#444" stroke-width="0.8"/>
<line x1="396.50" y1="263.50" x2="399.50" y2="263.50" stroke="#444" stroke-width="0.8"/>
<line x1="396.50" y1="273.50" x2="399.50" y2="273.50" stroke="#444" stroke-width="0.8"/>
<line x1="411.00" y1="287.90" x2="411.00" y2="297.90" stroke="#444" stroke-width="0.8"/>
<line x1="409.50" y1="287.90" x2="412.50" y2="287.90" stroke="#444" stroke-width="0.8"/>
<line x1="409.50" y1="297.90" x2="412.50" y2="297.90" stroke="#444" stroke-width="0.8"/>
<line x1="430.50" y1="294.20" x2="430.50" y2="304.20" stroke="#444" stroke-width="0.8"/>
<line x1="429.00" y1="294.20" x2="432.00" y2="294.20" stroke="#444" stroke-width="0.8"/>
<line x1="429.00" y1="304.20" x2="432.00" y2="304.20" stroke="#444" stroke-width="0.8"/>
<line x1="469.50" y1="300.20" x2="469.50" y2="310.20" stroke="#444" stroke-width="0.8"/>
<line x1="468.00" y1="300.20" x2="471.00" y2="300.20" stroke="#444" stroke-width="0.8"/>
<line x1="468.00" y1="310.20" x2="471.00" y2="310.20" stroke="#444" stroke-width="0.8"/>
<line x1="509.30" y1="304.50" x2="509.30" y2="314.50" stroke="#444" stroke-width="0.8"/>
<line x1="507.80" y1="304.50" x2="510.80" y2="304.50" stroke="#444" stroke-width="0.8"/>
<line x1="507.80" y1="314.50" x2="510.80" y2="314.50" stroke="#444" stroke-width="0.8"/>
<line x1="391.50" y1="313.50" x2="391.50" y2="323.50" stroke="#444" stroke-width="0.8"/>
<line x1="390.00" y1="313.50" x2="393.00" y2="313.50" stroke="#444" stroke-width="0.8"/>
<line x1="390.00" y1="323.50" x2="393.00" y2="323.50" stroke="#444" stroke-width="0.8"/>
<line x1="398.00" y1="261.70" x2="398.00" y2="271.70" stroke="#444" stroke-width="0.8"/>
<line x1="396.50" y1="261.70" x2="399.50" y2="261.70" stroke="#444" stroke-width="0.8"/>
<line x1="396.50" y1="271.70" x2="399.50" y2="271.70" stroke="#444" stroke-width="0.8"/>
<line x1="411.00" y1="283.60" x2="411.00" y2="293.60" stroke="#444" stroke-width="0.8"/>
<line x1="409.50" y1="283.60" x2="412.50" y2="283.60" stroke="#444" stroke-width="0.8"/>
<line x1="409.50" y1="293.60" x2="412.50" y2="293.60" stroke="#444" stroke-width="0.8"/>
<line x1="430.50" y1="281.10" x2="430.50" y2="291.10" stroke="#444" stroke-width="0.8"/>
<line x1="429.00" y1="281.10" x2="432.00" y2="281.10" stroke="#444" stroke-width="0.8"/>
<line x1="429.00" y1="291.10" x2="432.00" y2="291.10" stroke="#444" stroke-width="0.8"/>
<line x1="469.50" y1="289.20" x2="469.50" y2="299.20" stroke="#444" stroke-width="0.8"/>
<line x1="468.00" y1="289.20" x2="471.00" y2="289.20" stroke="#444" stroke-width="0.8"/>
<line x1="468.00" y1="299.20" x2="471.00" y2="299.20" stroke="#444" stroke-width="0.8"/>
<line x1="509.30" y1="298.30" x2="509.30" y2="308.30" stroke="#444" stroke-width="0.8"/>
<line x1="507.80" y1="298.30" x2="510.80" y2="298.30" stroke="#444" stroke-width="0.8"/>
<line x1="507.80" y1="308.30" x2="510.80" y2="308.30" stroke="#444" stroke-width="0.8"/>
<line x1="391.50" y1="317.50" x2="391.50" y2="327.50" stroke="#444" stroke-width="0.8"/>
<line x1="390.00" y1="317.50" x2="393.00" y2="317.50" stroke="#444" stroke-width="0.8"/>
<line x1="390.00" y1="327.50" x2="393.00" y2="327.50" stroke="#444" stroke-width="0.8"/>
<line x1="398.00" y1="277.70" x2="398.00" y2="287.70" stroke="#444" stroke-width="0.8"/>
<line x1="396.50" y1="277.70" x2="399.50" y2="277.70" stroke="#444" stroke-width="0.8"/>
<line x1="396.50" y1="287.70" x2="399.50" y2="287.70" stroke="#444" stroke-width="0.8"/>
<line x1="411.00" y1="299.60" x2="411.00" y2="309.60" stroke="#444" stroke-width="0.8"/>
<line x1="409.50" y1="299.60" x2="412.50" y2="299.60" stroke="#444" stroke-width="0.8"/>
<line x1="409.50" y1="309.60" x2="412.50" y2="309.60" stroke="#444" stroke-width="0.8"/>
<line x1="430.50" y1="303.30" x2="430.50" y2="313.30" stroke="#444" stroke-width="0.8"/>
<line x1="429.00" y1="303.30" x2="432.00" y2="303.30" stroke="#444" stroke-width="0.8"/>
<line x1="429.00" y1="313.30" x2="432.00" y2="313.30" stroke="#444" stroke-width="0.8"/>
<line x1="469.50" y1="310.40" x2="469.50" y2="320.40" stroke="#444" stroke-width="0.8"/>
<line x1="468.00" y1="310.40" x2="471.00" y2="310.40" stroke="#444" stroke-width="0.8"/>
<line x1="468.00" y1="320.40" x2="471.00" y2="320.40" stroke="#444" stroke-width="0.8"/>
<line x1="509.30" y1="317.10" x2="509.30" y2="327.10" stroke="#444" stroke-width="0.8"/>
<line x1="507.80" y1="317.10" x2="510.80" y2="317.10" stroke="#444" stroke-width="0.8"/>
<line x1="507.80" y1="327.10" x2="510.80" y2="327.10" stroke="#444" stroke-width="0.8"/>
<path d="M391.50 319.30 L394.50 324.70 L388.50 324.70 Z" fill="#000"/>
<path d="M398.00 279.50 L401.00 284.90 L395.00 284.90 Z" fill="#000"/>
<path d="M411.00 301.40 L414.00 306.80 L408.00 306.80 Z" fill="#000"/>
<path d="M430.50 305.10 L433.50 310.50 L427.50 310.50 Z" fill="#000"/>
<path d="M469.50 312.20 L472.50 317.60 L466.50 317.60 Z" fill="#000"/>
<path d="M509.30 318.90 L512.30 324.30 L506.30 324.30 Z" fill="#000"/>
<rect x="388.80" y="315.80" width="5.4" height="5.4" fill="#000"/>
<rect x="395.30" y="264.00" width="5.4" height="5.4" fill="#000"/>
<rect x="408.30" y="285.90" width="5.4" height="5.4" fill="#000"/>
<rect x="427.80" y="283.40" width="5.4" height="5.4" fill="#000"/>
<rect x="466.80" y="291.50" width="5.4" height="5.4" fill="#000"/>
<rect x="506.60" y="300.60" width="5.4" height="5.4" fill="#000"/>
<circle cx="391.50" cy="321.00" r="2.7" fill="#000"/>
<circle cx="398.00" cy="268.50" r="2.7" fill="#000"/>
<circle cx="411.00" cy="292.90" r="2.7" fill="#000"/>
<circle cx="430.50" cy="299.20" r="2.7" fill="#000"/>
<circle cx="469.50" cy="305.20" r="2.7" fill="#000"/>
<circle cx="509.30" cy="309.50" r="2.7" fill="#000"/>
<circle cx="391.50" cy="314.10" r="2.6" fill="#fff" stroke="#000" stroke-width="1.2"/>
<circle cx="398.00" cy="257.20" r="2.6" fill="#fff" stroke="#000" stroke-width="1.2"/>
<circle cx="411.00" cy="259.10" r="2.6" fill="#fff" stroke="#000" stroke-width="1.2"/>
<circle cx="430.50" cy="275.60" r="2.6" fill="#fff" stroke="#000" stroke-width="1.2"/>
<circle cx="469.50" cy="284.40" r="2.6" fill="#fff" stroke="#000" stroke-width="1.2"/>
<circle cx="509.30" cy="288.90" r="2.6" fill="#fff" stroke="#000" stroke-width="1.2"/>
<circle cx="460.00" cy="224.20" r="2.1" fill="#fff" stroke="#000" stroke-width="1.0"/>
<text x="465.80" y="227.10" font-size="8.4" text-anchor="start" font-family='"Liberation Sans", sans-serif' font-weight="normal" stroke="#000" stroke-width="0.45" >Control</text>
<rect x="457.80" y="234.00" width="4.4" height="4.6" fill="#000"/>
<line x1="466.55" y1="236.10" x2="470.25" y2="236.10" stroke="#111" stroke-width="1.25"/>
<line x1="468.40" y1="234.25" x2="468.40" y2="237.95" stroke="#111" stroke-width="1.25"/>
<text x="473.00" y="239.10" font-size="8.4" text-anchor="start" font-family='"Liberation Sans", sans-serif' font-weight="normal" stroke="#000" stroke-width="0.45" >WTM</text>
<circle cx="460.00" cy="248.20" r="2.2" fill="#000"/>
<line x1="466.55" y1="248.10" x2="470.25" y2="248.10" stroke="#111" stroke-width="1.25"/>
<line x1="468.40" y1="246.25" x2="468.40" y2="249.95" stroke="#111" stroke-width="1.25"/>
<text x="473.00" y="251.10" font-size="8.4" text-anchor="start" font-family='"Liberation Sans", sans-serif' font-weight="normal" stroke="#000" stroke-width="0.45" >SH2</text>
<path d="M460.00 257.40 L462.70 262.30 L457.30 262.30 Z" fill="#000"/>
<line x1="466.55" y1="260.10" x2="470.25" y2="260.10" stroke="#111" stroke-width="1.25"/>
<line x1="468.40" y1="258.25" x2="468.40" y2="261.95" stroke="#111" stroke-width="1.25"/>
<text x="473.00" y="263.10" font-size="8.4" text-anchor="start" font-family='"Liberation Sans", sans-serif' font-weight="normal" stroke="#000" stroke-width="0.45" >WTM</text>
<line x1="496.15" y1="260.10" x2="499.85" y2="260.10" stroke="#111" stroke-width="1.25"/>
<line x1="498.00" y1="258.25" x2="498.00" y2="261.95" stroke="#111" stroke-width="1.25"/>
<text x="502.80" y="263.10" font-size="8.4" text-anchor="start" font-family='"Liberation Sans", sans-serif' font-weight="normal" stroke="#000" stroke-width="0.45" >SH2</text>
<text x="0" y="0" transform="translate(9.50,101.90) rotate(-90) scale(1,0.88)" font-size="10.0" text-anchor="middle" font-family='"Liberation Sans", sans-serif' font-weight="bold" stroke="#000" stroke-width="0.3" >Rate of Pseudopod Extension</text>
<text x="0" y="0" transform="translate(23.00,104.90) rotate(-90) scale(1,1.0)" font-size="10.3" text-anchor="middle" font-family='"Liberation Sans", sans-serif' font-weight="normal" stroke="#000" stroke-width="0.3" >&#956;m/min</text>
<text x="0" y="0" transform="translate(9.80,283.35) rotate(-90) scale(1,0.88)" font-size="10.0" text-anchor="middle" font-family='"Liberation Sans", sans-serif' font-weight="bold" stroke="#000" stroke-width="0.3" >Relative F-actin Content</text>
<text x="0" y="0" transform="translate(9.20,433.00) rotate(-90) scale(1,0.88)" font-size="10" text-anchor="middle" font-family='"Liberation Sans", sans-serif' font-weight="bold" stroke="#000" stroke-width="0.3" >[<tspan font-size="5.6" dy="-3.6">32</tspan><tspan dy="3.6">P] PI(3,4,5)P</tspan><tspan font-size="6.3" dy="3.0">3</tspan></text>
<text x="0" y="0" transform="translate(22.20,433.00) rotate(-90) scale(1,0.82)" font-size="10.15" text-anchor="middle" font-family='"Liberation Sans", sans-serif' font-weight="normal" stroke="#000" stroke-width="0.35" >% Total Phospholipid</text>
</svg>
</body></html>
